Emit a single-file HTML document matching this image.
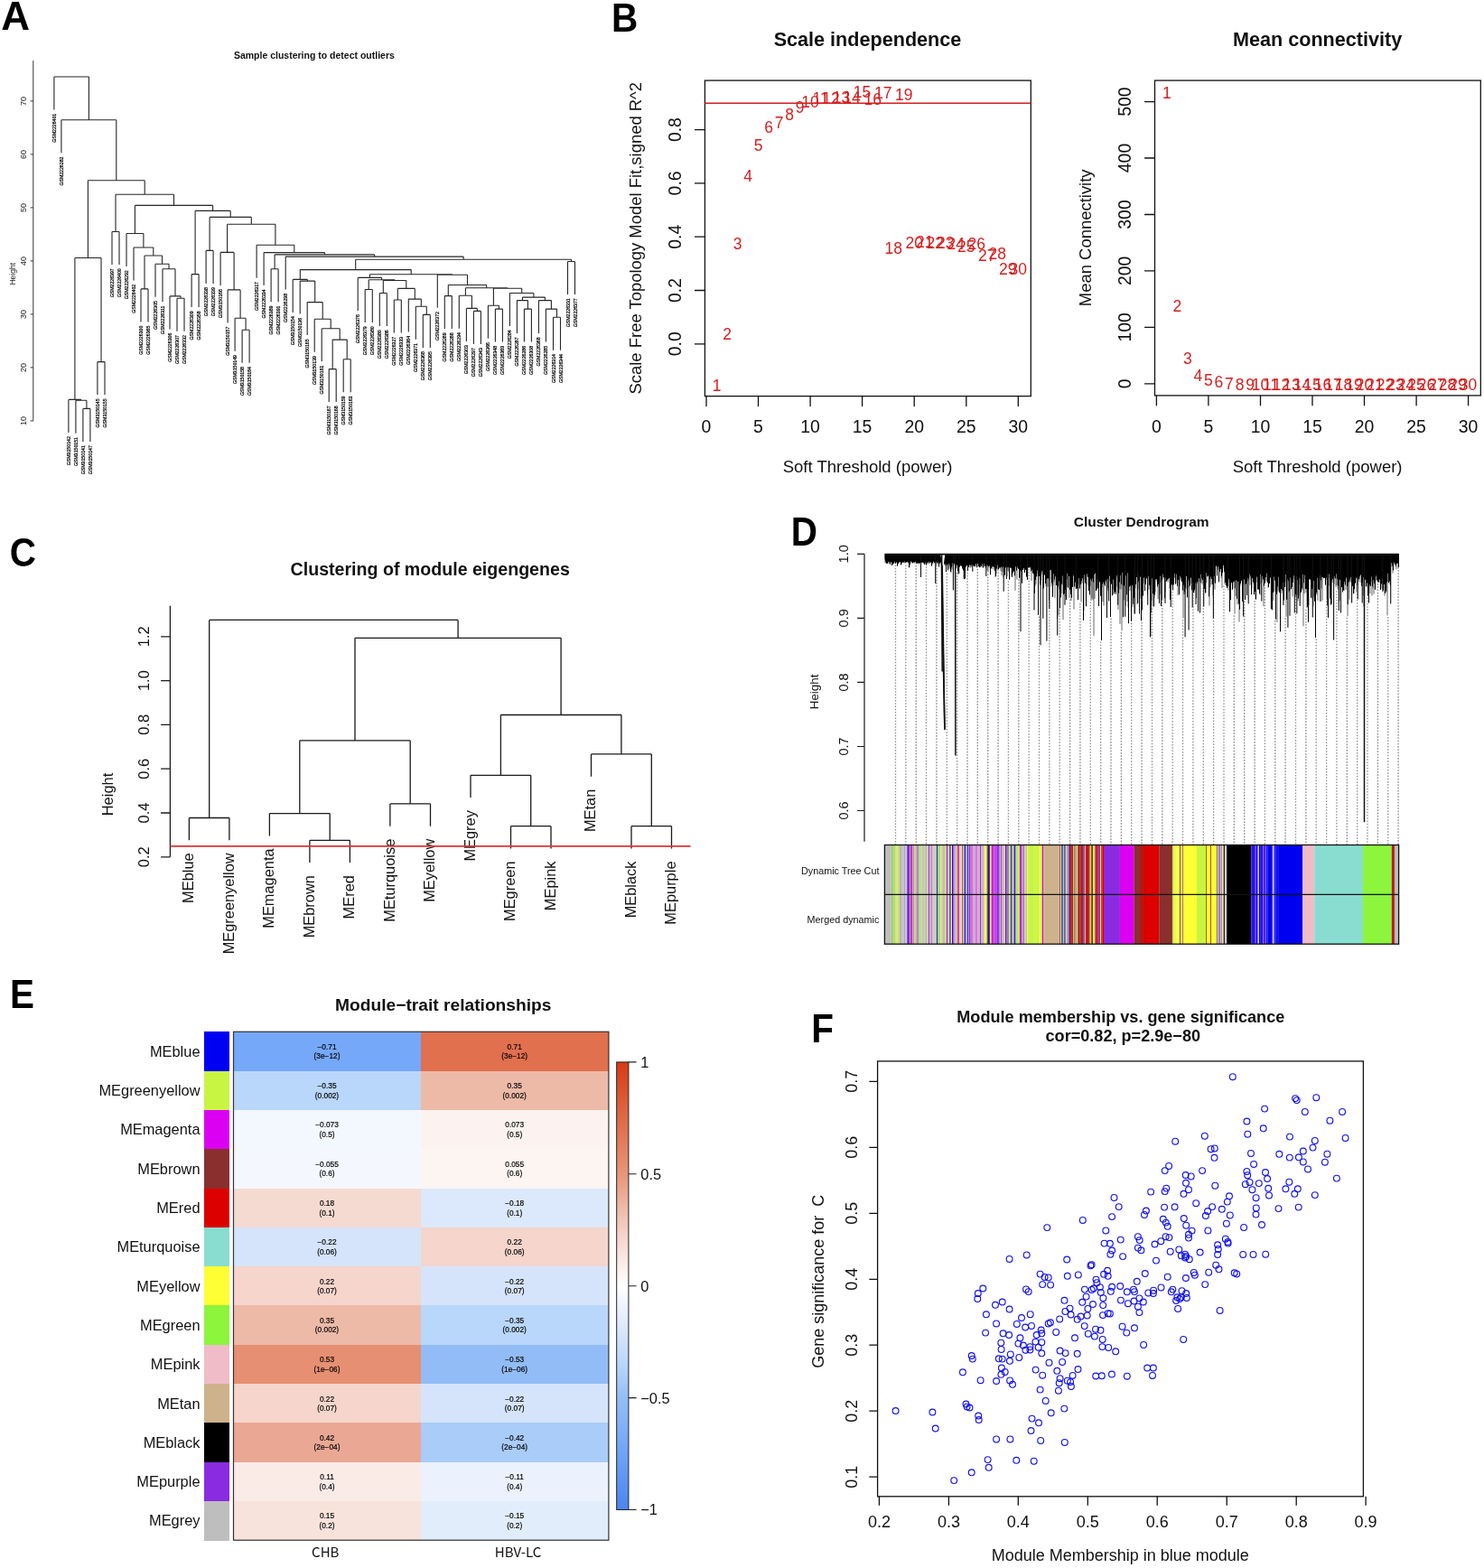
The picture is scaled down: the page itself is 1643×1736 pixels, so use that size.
<!DOCTYPE html>
<html><head><meta charset="utf-8"><title>WGCNA figure</title>
<style>html,body{margin:0;padding:0;background:#fff;width:1643px;height:1736px;overflow:hidden}svg{display:block}</style>
</head><body>
<svg width="1643" height="1736" viewBox="0 0 1643 1736">
<rect width="1643" height="1736" fill="#fff"/>
<path d="M91.9 452.4V488.9M99.9 452.4V488.9M91.9 452.4H99.9M83.9 443.2V479.7M95.9 443.2V452.4M83.9 443.2H95.9M75.9 442.4V478.9M89.9 442.4V443.2M75.9 442.4H89.9M107.9 400.6V437.1M116.0 400.6V437.1M107.9 400.6H116.0M82.9 285.5V442.4M112.0 285.5V400.6M82.9 285.5H112.0M124.0 256.5V293.0M132.0 256.5V293.0M124.0 256.5H132.0M156.0 319.9V356.4M164.0 319.9V356.4M156.0 319.9H164.0M196.0 330.3V366.8M204.0 330.3V366.8M196.0 330.3H204.0M188.0 327.9V364.4M200.0 327.9V330.3M188.0 327.9H200.0M180.0 297.7V334.2M194.0 297.7V327.9M180.0 297.7H194.0M172.0 292.3V328.8M187.0 292.3V297.7M172.0 292.3H187.0M160.0 283.0V319.9M179.5 283.0V292.3M160.0 283.0H179.5M148.0 274.0V310.5M169.8 274.0V283.0M148.0 274.0H169.8M140.0 258.5V295.0M158.9 258.5V274.0M140.0 258.5H158.9M212.1 303.6V340.1M220.1 303.6V340.1M212.1 303.6H220.1M228.1 277.4V313.9M236.1 277.4V313.9M228.1 277.4H236.1M268.1 365.2V401.7M276.1 365.2V401.7M268.1 365.2H276.1M260.1 352.2V388.7M272.1 352.2V365.2M260.1 352.2H272.1M252.1 320.9V357.4M266.1 320.9V352.2M252.1 320.9H266.1M244.1 279.4V315.9M259.1 279.4V320.9M244.1 279.4H259.1M300.1 297.8V334.3M308.1 297.8V334.3M300.1 297.8H308.1M364.2 408.6V445.1M372.2 408.6V445.1M364.2 408.6H372.2M380.2 397.7V434.2M388.2 397.7V434.2M380.2 397.7H388.2M368.2 376.1V408.6M384.2 376.1V397.7M368.2 376.1H384.2M356.2 363.8V400.3M376.2 363.8V376.1M356.2 363.8H376.2M348.2 353.3V389.8M366.2 353.3V363.8M348.2 353.3H366.2M340.2 334.6V371.1M357.2 334.6V353.3M340.2 334.6H357.2M332.2 311.1V347.6M348.7 311.1V334.6M332.2 311.1H348.7M324.2 309.4V345.9M340.4 309.4V311.1M324.2 309.4H340.4M404.2 320.5V357.0M412.3 320.5V357.0M404.2 320.5H412.3M420.3 324.5V361.0M428.3 324.5V361.0M420.3 324.5H428.3M436.3 332.0V368.5M444.3 332.0V368.5M436.3 332.0H444.3M468.3 348.4V384.9M476.3 348.4V384.9M468.3 348.4H476.3M460.3 339.2V375.7M472.3 339.2V348.4M460.3 339.2H472.3M452.3 331.1V367.6M466.3 331.1V339.2M452.3 331.1H466.3M440.3 319.4V332.0M459.3 319.4V331.1M440.3 319.4H459.3M424.3 310.5V324.5M449.8 310.5V319.4M424.3 310.5H449.8M408.2 309.8V320.5M437.0 309.8V310.5M408.2 309.8H437.0M396.2 307.4V343.9M422.6 307.4V309.8M396.2 307.4H422.6M492.3 327.6V364.1M500.3 327.6V364.1M492.3 327.6H500.3M524.4 344.4V380.9M532.4 344.4V380.9M524.4 344.4H532.4M516.4 341.4V377.9M528.4 341.4V344.4M516.4 341.4H528.4M508.3 327.3V363.8M522.4 327.3V341.4M508.3 327.3H522.4M548.4 342.1V378.6M556.4 342.1V378.6M548.4 342.1H556.4M540.4 338.3V374.8M552.4 338.3V342.1M540.4 338.3H552.4M580.4 342.1V378.6M588.4 342.1V378.6M580.4 342.1H588.4M572.4 332.6V369.1M584.4 332.6V342.1M572.4 332.6H584.4M612.5 351.2V387.7M620.5 351.2V387.7M612.5 351.2H620.5M604.4 342.1V378.6M616.5 342.1V351.2M604.4 342.1H616.5M596.4 332.6V369.1M610.4 332.6V342.1M596.4 332.6H610.4M578.4 329.1V332.6M603.4 329.1V332.6M578.4 329.1H603.4M564.4 324.5V361.0M590.9 324.5V329.1M564.4 324.5H590.9M546.4 319.3V338.3M577.7 319.3V324.5M546.4 319.3H577.7M515.4 318.8V327.3M562.0 318.8V319.3M515.4 318.8H562.0M496.3 315.5V327.6M538.7 315.5V318.8M496.3 315.5H538.7M484.3 304.3V340.8M517.5 304.3V315.5M484.3 304.3H517.5M409.4 303.7V307.4M500.9 303.7V304.3M409.4 303.7H500.9M332.3 298.6V309.4M455.2 298.6V303.7M332.3 298.6H455.2M628.5 289.5V326.0M636.5 289.5V326.0M628.5 289.5H636.5M393.7 287.2V298.6M632.5 287.2V289.5M393.7 287.2H632.5M316.2 284.1V320.6M513.1 284.1V287.2M316.2 284.1H513.1M304.1 281.9V297.8M414.6 281.9V284.1M304.1 281.9H414.6M292.1 279.6V316.1M359.4 279.6V281.9M292.1 279.6H359.4M284.1 271.2V307.7M325.8 271.2V279.6M284.1 271.2H325.8M251.6 248.3V279.4M304.9 248.3V271.2M251.6 248.3H304.9M232.1 240.4V277.4M278.3 240.4V248.3M232.1 240.4H278.3M216.1 233.4V303.6M255.2 233.4V240.4M216.1 233.4H255.2M149.4 227.4V258.5M235.6 227.4V233.4M149.4 227.4H235.6M128.0 215.3V256.5M192.5 215.3V227.4M128.0 215.3H192.5M97.4 199.7V285.5M160.2 199.7V215.3M97.4 199.7H160.2M67.9 132.8V169.3M128.8 132.8V199.7M67.9 132.8H128.8M59.9 85.0V121.5M98.4 85.0V132.8M59.9 85.0H98.4" fill="none" stroke="#262626" stroke-width="1.1"/>
<g font-family="Liberation Sans, Arial, sans-serif" font-size="5.2" fill="#000" stroke="#000" stroke-width="0.22"><text transform="translate(61.9 125.8) rotate(-90)" text-anchor="end">GSM2226401</text><text transform="translate(69.9 173.6) rotate(-90)" text-anchor="end">GSM2226282</text><text transform="translate(77.9 483.2) rotate(-90)" text-anchor="end">GSM3150142</text><text transform="translate(85.9 484.0) rotate(-90)" text-anchor="end">GSM3150151</text><text transform="translate(93.9 493.2) rotate(-90)" text-anchor="end">GSM3150141</text><text transform="translate(101.9 493.2) rotate(-90)" text-anchor="end">GSM3150147</text><text transform="translate(109.9 441.4) rotate(-90)" text-anchor="end">GSM3150145</text><text transform="translate(118.0 441.4) rotate(-90)" text-anchor="end">GSM3150155</text><text transform="translate(126.0 297.3) rotate(-90)" text-anchor="end">GSM2226397</text><text transform="translate(134.0 297.3) rotate(-90)" text-anchor="end">GSM2226400</text><text transform="translate(142.0 299.3) rotate(-90)" text-anchor="end">GSM2226292</text><text transform="translate(150.0 314.8) rotate(-90)" text-anchor="end">GSM2226402</text><text transform="translate(158.0 360.7) rotate(-90)" text-anchor="end">GSM2226300</text><text transform="translate(166.0 360.7) rotate(-90)" text-anchor="end">GSM2226365</text><text transform="translate(174.0 333.1) rotate(-90)" text-anchor="end">GSM2226305</text><text transform="translate(182.0 338.5) rotate(-90)" text-anchor="end">GSM2226311</text><text transform="translate(190.0 368.7) rotate(-90)" text-anchor="end">GSM2226306</text><text transform="translate(198.0 371.1) rotate(-90)" text-anchor="end">GSM2226307</text><text transform="translate(206.0 371.1) rotate(-90)" text-anchor="end">GSM2226332</text><text transform="translate(214.1 344.4) rotate(-90)" text-anchor="end">GSM2226309</text><text transform="translate(222.1 344.4) rotate(-90)" text-anchor="end">GSM2226358</text><text transform="translate(230.1 318.2) rotate(-90)" text-anchor="end">GSM2226338</text><text transform="translate(238.1 318.2) rotate(-90)" text-anchor="end">GSM2226339</text><text transform="translate(246.1 320.2) rotate(-90)" text-anchor="end">GSM3150166</text><text transform="translate(254.1 361.7) rotate(-90)" text-anchor="end">GSM3150157</text><text transform="translate(262.1 393.0) rotate(-90)" text-anchor="end">GSM3150149</text><text transform="translate(270.1 406.0) rotate(-90)" text-anchor="end">GSM3150158</text><text transform="translate(278.1 406.0) rotate(-90)" text-anchor="end">GSM3150164</text><text transform="translate(286.1 312.0) rotate(-90)" text-anchor="end">GSM2226317</text><text transform="translate(294.1 320.4) rotate(-90)" text-anchor="end">GSM2226334</text><text transform="translate(302.1 338.6) rotate(-90)" text-anchor="end">GSM2226389</text><text transform="translate(310.1 338.6) rotate(-90)" text-anchor="end">GSM2226391</text><text transform="translate(318.2 324.9) rotate(-90)" text-anchor="end">GSM2226298</text><text transform="translate(326.2 350.2) rotate(-90)" text-anchor="end">GSM3150154</text><text transform="translate(334.2 351.9) rotate(-90)" text-anchor="end">GSM3150136</text><text transform="translate(342.2 375.4) rotate(-90)" text-anchor="end">GSM3150165</text><text transform="translate(350.2 394.1) rotate(-90)" text-anchor="end">GSM3150139</text><text transform="translate(358.2 404.6) rotate(-90)" text-anchor="end">GSM3150161</text><text transform="translate(366.2 449.4) rotate(-90)" text-anchor="end">GSM3150167</text><text transform="translate(374.2 449.4) rotate(-90)" text-anchor="end">GSM3150168</text><text transform="translate(382.2 438.5) rotate(-90)" text-anchor="end">GSM3150159</text><text transform="translate(390.2 438.5) rotate(-90)" text-anchor="end">GSM3150163</text><text transform="translate(398.2 348.2) rotate(-90)" text-anchor="end">GSM2226376</text><text transform="translate(406.2 361.3) rotate(-90)" text-anchor="end">GSM2226379</text><text transform="translate(414.3 361.3) rotate(-90)" text-anchor="end">GSM2226380</text><text transform="translate(422.3 365.3) rotate(-90)" text-anchor="end">GSM2226380</text><text transform="translate(430.3 365.3) rotate(-90)" text-anchor="end">GSM2226386</text><text transform="translate(438.3 372.8) rotate(-90)" text-anchor="end">GSM2226327</text><text transform="translate(446.3 372.8) rotate(-90)" text-anchor="end">GSM2226333</text><text transform="translate(454.3 371.9) rotate(-90)" text-anchor="end">GSM2226364</text><text transform="translate(462.3 380.0) rotate(-90)" text-anchor="end">GSM2226371</text><text transform="translate(470.3 389.2) rotate(-90)" text-anchor="end">GSM2226368</text><text transform="translate(478.3 389.2) rotate(-90)" text-anchor="end">GSM2226395</text><text transform="translate(486.3 345.1) rotate(-90)" text-anchor="end">GSM2226372</text><text transform="translate(494.3 368.4) rotate(-90)" text-anchor="end">GSM2226289</text><text transform="translate(502.3 368.4) rotate(-90)" text-anchor="end">GSM2226288</text><text transform="translate(510.3 368.1) rotate(-90)" text-anchor="end">GSM2226294</text><text transform="translate(518.4 382.2) rotate(-90)" text-anchor="end">GSM2226303</text><text transform="translate(526.4 385.2) rotate(-90)" text-anchor="end">GSM2226297</text><text transform="translate(534.4 385.2) rotate(-90)" text-anchor="end">GSM2226343</text><text transform="translate(542.4 379.1) rotate(-90)" text-anchor="end">GSM2226366</text><text transform="translate(550.4 382.9) rotate(-90)" text-anchor="end">GSM2226348</text><text transform="translate(558.4 382.9) rotate(-90)" text-anchor="end">GSM2226369</text><text transform="translate(566.4 365.3) rotate(-90)" text-anchor="end">GSM2226284</text><text transform="translate(574.4 373.4) rotate(-90)" text-anchor="end">GSM2226287</text><text transform="translate(582.4 382.9) rotate(-90)" text-anchor="end">GSM2226286</text><text transform="translate(590.4 382.9) rotate(-90)" text-anchor="end">GSM2226308</text><text transform="translate(598.4 373.4) rotate(-90)" text-anchor="end">GSM2226368</text><text transform="translate(606.4 382.9) rotate(-90)" text-anchor="end">GSM2226285</text><text transform="translate(614.5 392.0) rotate(-90)" text-anchor="end">GSM2226314</text><text transform="translate(622.5 392.0) rotate(-90)" text-anchor="end">GSM2226344</text><text transform="translate(630.5 330.3) rotate(-90)" text-anchor="end">GSM2226331</text><text transform="translate(638.5 330.3) rotate(-90)" text-anchor="end">GSM2226377</text></g>
<path d="M36.8 67.1V465.9M33.7 465.9H36.8M33.7 406.9H36.8M33.7 347.9H36.8M33.7 288.9H36.8M33.7 229.9H36.8M33.7 170.9H36.8M33.7 111.9H36.8" fill="none" stroke="#333" stroke-width="1"/>
<g font-family="Liberation Sans, Arial, sans-serif" font-size="9" fill="#222"><text transform="translate(28.8 465.9) rotate(-90)" text-anchor="middle">10</text><text transform="translate(28.8 406.9) rotate(-90)" text-anchor="middle">20</text><text transform="translate(28.8 347.9) rotate(-90)" text-anchor="middle">30</text><text transform="translate(28.8 288.9) rotate(-90)" text-anchor="middle">40</text><text transform="translate(28.8 229.9) rotate(-90)" text-anchor="middle">50</text><text transform="translate(28.8 170.9) rotate(-90)" text-anchor="middle">60</text><text transform="translate(28.8 111.9) rotate(-90)" text-anchor="middle">70</text></g>
<text transform="translate(16.5 303.3) rotate(-90)" text-anchor="middle" font-family="Liberation Sans, Arial, sans-serif" font-size="8.5" fill="#222">Height</text>
<text x="347.9" y="64.8" text-anchor="middle" font-family="Liberation Sans, Arial, sans-serif" font-weight="bold" font-size="10.5" fill="#111">Sample clustering to detect outliers</text>
<rect x="780.4" y="89.1" width="360.9" height="349.5" fill="none" stroke="#111" stroke-width="1.3"/>
<path d="M782.0 438.6V450.0M839.5 438.6V450.0M897.1 438.6V450.0M954.6 438.6V450.0M1012.2 438.6V450.0M1069.8 438.6V450.0M1127.3 438.6V450.0M780.4 380.8H769.0M780.4 321.5H769.0M780.4 262.2H769.0M780.4 202.9H769.0M780.4 143.6H769.0" stroke="#111" stroke-width="1.3" fill="none"/>
<g font-family="Liberation Sans, Arial, sans-serif" font-size="19.4" fill="#111"><text x="782.0" y="478.8" text-anchor="middle">0</text><text x="839.5" y="478.8" text-anchor="middle">5</text><text x="897.1" y="478.8" text-anchor="middle">10</text><text x="954.6" y="478.8" text-anchor="middle">15</text><text x="1012.2" y="478.8" text-anchor="middle">20</text><text x="1069.8" y="478.8" text-anchor="middle">25</text><text x="1127.3" y="478.8" text-anchor="middle">30</text><text transform="translate(754.2 380.8) rotate(-90)" text-anchor="middle">0.0</text><text transform="translate(754.2 321.5) rotate(-90)" text-anchor="middle">0.2</text><text transform="translate(754.2 262.2) rotate(-90)" text-anchor="middle">0.4</text><text transform="translate(754.2 202.9) rotate(-90)" text-anchor="middle">0.6</text><text transform="translate(754.2 143.6) rotate(-90)" text-anchor="middle">0.8</text><text x="960.6" y="522.5" text-anchor="middle" font-size="18.5">Soft Threshold (power)</text><text transform="translate(709.8 263.75) rotate(-90)" text-anchor="middle" font-size="18.45">Scale Free Topology Model Fit,signed R^2</text></g>
<text x="960.5" y="51.4" text-anchor="middle" font-family="Liberation Sans, Arial, sans-serif" font-weight="bold" font-size="21.6" fill="#111">Scale independence</text>
<line x1="780.4" x2="1141.3" y1="114.3" y2="114.3" stroke="#d41f1f" stroke-width="1.5"/>
<g font-family="Liberation Sans, Arial, sans-serif" font-size="17.5" fill="#d41f1f"><text x="793.5" y="432.5" text-anchor="middle">1</text><text x="805.0" y="375.6" text-anchor="middle">2</text><text x="816.5" y="276.3" text-anchor="middle">3</text><text x="828.0" y="201.4" text-anchor="middle">4</text><text x="839.5" y="166.5" text-anchor="middle">5</text><text x="851.1" y="146.5" text-anchor="middle">6</text><text x="862.6" y="142.1" text-anchor="middle">7</text><text x="874.1" y="132.9" text-anchor="middle">8</text><text x="885.6" y="125.3" text-anchor="middle">9</text><text x="897.1" y="119.3" text-anchor="middle">10</text><text x="908.6" y="115.4" text-anchor="middle">11</text><text x="920.1" y="115.0" text-anchor="middle">12</text><text x="931.6" y="114.1" text-anchor="middle">13</text><text x="943.1" y="113.6" text-anchor="middle">14</text><text x="954.6" y="107.7" text-anchor="middle">15</text><text x="966.2" y="115.8" text-anchor="middle">16</text><text x="977.7" y="108.8" text-anchor="middle">17</text><text x="989.2" y="280.7" text-anchor="middle">18</text><text x="1000.7" y="110.6" text-anchor="middle">19</text><text x="1012.2" y="274.5" text-anchor="middle">20</text><text x="1023.7" y="273.9" text-anchor="middle">21</text><text x="1035.2" y="275.4" text-anchor="middle">22</text><text x="1046.7" y="275.4" text-anchor="middle">23</text><text x="1058.2" y="276.3" text-anchor="middle">24</text><text x="1069.8" y="278.5" text-anchor="middle">25</text><text x="1081.3" y="276.3" text-anchor="middle">26</text><text x="1092.8" y="288.8" text-anchor="middle">27</text><text x="1104.3" y="287.3" text-anchor="middle">28</text><text x="1115.8" y="304.0" text-anchor="middle">29</text><text x="1127.3" y="304.0" text-anchor="middle">30</text></g>
<rect x="1278.5" y="89.1" width="360.8" height="348.8" fill="none" stroke="#111" stroke-width="1.3"/>
<path d="M1280.4 437.9V449.3M1337.9 437.9V449.3M1395.5 437.9V449.3M1453.0 437.9V449.3M1510.5 437.9V449.3M1568.1 437.9V449.3M1625.6 437.9V449.3M1278.5 424.8H1267.1M1278.5 362.4H1267.1M1278.5 299.9H1267.1M1278.5 237.5H1267.1M1278.5 175.0H1267.1M1278.5 112.6H1267.1" stroke="#111" stroke-width="1.3" fill="none"/>
<g font-family="Liberation Sans, Arial, sans-serif" font-size="19.4" fill="#111"><text x="1280.4" y="478.8" text-anchor="middle">0</text><text x="1337.9" y="478.8" text-anchor="middle">5</text><text x="1395.5" y="478.8" text-anchor="middle">10</text><text x="1453.0" y="478.8" text-anchor="middle">15</text><text x="1510.5" y="478.8" text-anchor="middle">20</text><text x="1568.1" y="478.8" text-anchor="middle">25</text><text x="1625.6" y="478.8" text-anchor="middle">30</text><text transform="translate(1251.5 424.8) rotate(-90)" text-anchor="middle">0</text><text transform="translate(1251.5 362.4) rotate(-90)" text-anchor="middle">100</text><text transform="translate(1251.5 299.9) rotate(-90)" text-anchor="middle">200</text><text transform="translate(1251.5 237.5) rotate(-90)" text-anchor="middle">300</text><text transform="translate(1251.5 175.0) rotate(-90)" text-anchor="middle">400</text><text transform="translate(1251.5 112.6) rotate(-90)" text-anchor="middle">500</text><text x="1458.6" y="522.5" text-anchor="middle" font-size="18.5">Soft Threshold (power)</text><text transform="translate(1208.2 263.3) rotate(-90)" text-anchor="middle" font-size="18.45">Mean Connectivity</text></g>
<text x="1458.6" y="51.4" text-anchor="middle" font-family="Liberation Sans, Arial, sans-serif" font-weight="bold" font-size="21.6" fill="#111">Mean connectivity</text>
<g font-family="Liberation Sans, Arial, sans-serif" font-size="17.5" fill="#d41f1f"><text x="1291.9" y="108.9" text-anchor="middle">1</text><text x="1303.4" y="345.3" text-anchor="middle">2</text><text x="1314.9" y="402.9" text-anchor="middle">3</text><text x="1326.4" y="421.7" text-anchor="middle">4</text><text x="1337.9" y="427.2" text-anchor="middle">5</text><text x="1349.4" y="429.4" text-anchor="middle">6</text><text x="1360.9" y="430.5" text-anchor="middle">7</text><text x="1372.5" y="431.6" text-anchor="middle">8</text><text x="1384.0" y="431.6" text-anchor="middle">9</text><text x="1395.5" y="431.6" text-anchor="middle">10</text><text x="1407.0" y="431.6" text-anchor="middle">11</text><text x="1418.5" y="431.6" text-anchor="middle">12</text><text x="1430.0" y="431.6" text-anchor="middle">13</text><text x="1441.5" y="431.6" text-anchor="middle">14</text><text x="1453.0" y="431.6" text-anchor="middle">15</text><text x="1464.5" y="431.6" text-anchor="middle">16</text><text x="1476.0" y="431.6" text-anchor="middle">17</text><text x="1487.5" y="431.6" text-anchor="middle">18</text><text x="1499.0" y="431.6" text-anchor="middle">19</text><text x="1510.5" y="431.6" text-anchor="middle">20</text><text x="1522.0" y="431.6" text-anchor="middle">21</text><text x="1533.6" y="431.6" text-anchor="middle">22</text><text x="1545.1" y="431.6" text-anchor="middle">23</text><text x="1556.6" y="431.6" text-anchor="middle">24</text><text x="1568.1" y="431.6" text-anchor="middle">25</text><text x="1579.6" y="431.6" text-anchor="middle">26</text><text x="1591.1" y="431.6" text-anchor="middle">27</text><text x="1602.6" y="431.6" text-anchor="middle">28</text><text x="1614.1" y="431.6" text-anchor="middle">29</text><text x="1625.6" y="431.6" text-anchor="middle">30</text></g>
<path d="M209.4 905.5V930.3M253.9 905.5V930.3M209.4 905.5H253.9M342.9 930.3V955.1M387.4 930.3V955.1M342.9 930.3H387.4M298.4 900.6V925.4M365.2 900.6V930.3M298.4 900.6H365.2M431.9 889.9V914.7M476.5 889.9V914.7M431.9 889.9H476.5M331.8 819.8V900.6M454.2 819.8V889.9M331.8 819.8H454.2M565.5 914.7V939.5M610.0 914.7V939.5M565.5 914.7H610.0M521.0 858.3V883.1M587.7 858.3V914.7M521.0 858.3H587.7M699.0 914.7V939.5M743.5 914.7V939.5M699.0 914.7H743.5M654.5 834.9V859.7M721.3 834.9V914.7M654.5 834.9H721.3M554.4 791.5V858.3M687.9 791.5V834.9M554.4 791.5H687.9M393.0 706.3V819.8M621.1 706.3V791.5M393.0 706.3H621.1M231.7 686.4V905.5M507.1 686.4V706.3M231.7 686.4H507.1" fill="none" stroke="#1a1a1a" stroke-width="1.3"/>
<g font-family="Liberation Sans, Arial, sans-serif" font-size="16.4" fill="#111"><text transform="translate(214.2 944.3) rotate(-90)" text-anchor="end">MEblue</text><text transform="translate(258.7 944.3) rotate(-90)" text-anchor="end">MEgreenyellow</text><text transform="translate(303.2 939.4) rotate(-90)" text-anchor="end">MEmagenta</text><text transform="translate(347.7 969.1) rotate(-90)" text-anchor="end">MEbrown</text><text transform="translate(392.2 969.1) rotate(-90)" text-anchor="end">MEred</text><text transform="translate(436.8 928.7) rotate(-90)" text-anchor="end">MEturquoise</text><text transform="translate(481.3 928.7) rotate(-90)" text-anchor="end">MEyellow</text><text transform="translate(525.8 897.1) rotate(-90)" text-anchor="end">MEgrey</text><text transform="translate(570.3 953.5) rotate(-90)" text-anchor="end">MEgreen</text><text transform="translate(614.8 953.5) rotate(-90)" text-anchor="end">MEpink</text><text transform="translate(659.3 873.7) rotate(-90)" text-anchor="end">MEtan</text><text transform="translate(703.8 953.5) rotate(-90)" text-anchor="end">MEblack</text><text transform="translate(748.3 953.5) rotate(-90)" text-anchor="end">MEpurple</text></g>
<path d="M188.4 670.7V948.7M178.1 948.8H188.4M178.1 900.0H188.4M178.1 851.2H188.4M178.1 802.4H188.4M178.1 753.6H188.4M178.1 704.8H188.4" fill="none" stroke="#1a1a1a" stroke-width="1.3"/>
<g font-family="Liberation Sans, Arial, sans-serif" font-size="16.5" fill="#111"><text transform="translate(165.3 948.8) rotate(-90)" text-anchor="middle">0.2</text><text transform="translate(165.3 900.0) rotate(-90)" text-anchor="middle">0.4</text><text transform="translate(165.3 851.2) rotate(-90)" text-anchor="middle">0.6</text><text transform="translate(165.3 802.4) rotate(-90)" text-anchor="middle">0.8</text><text transform="translate(165.3 753.6) rotate(-90)" text-anchor="middle">1.0</text><text transform="translate(165.3 704.8) rotate(-90)" text-anchor="middle">1.2</text><text transform="translate(125.1 879.5) rotate(-90)" text-anchor="middle">Height</text></g>
<line x1="188.4" x2="764.5" y1="936.9" y2="936.9" stroke="#dc3434" stroke-width="1.8"/>
<text x="476.2" y="637.2" text-anchor="middle" font-family="Liberation Sans, Arial, sans-serif" font-weight="bold" font-size="19.6" fill="#111">Clustering of module eigengenes</text>
<path d="M1548.1 631.1V935M1536.7 682.9V935M1525.4 646.1V935M1514.0 661.4V935M1502.7 657.4V935M1491.3 683.8V935M1479.9 654.2V935M1468.6 665.4V935M1457.2 707.4V935M1445.9 674.8V935M1434.5 663.0V935M1423.1 684.3V935M1411.8 687.1V935M1400.4 650.2V935M1389.1 665.1V935M1377.7 665.6V935M1366.3 681.3V935M1355.0 648.5V935M1343.6 660.9V935M1332.3 643.9V935M1320.9 658.2V935M1309.5 686.0V935M1298.2 655.0V935M1286.8 666.6V935M1275.5 673.2V935M1264.1 688.8V935M1252.7 689.4V935M1241.4 699.8V935M1230.0 684.6V935M1218.7 710.5V935M1207.3 666.5V935M1195.9 668.1V935M1184.6 663.6V935M1173.2 674.9V935M1161.9 666.4V935M1150.5 682.4V935M1139.1 630.0V935M1127.8 641.3V935M1116.4 643.2V935M1105.1 633.6V935M1093.7 635.3V935M1082.3 629.8V935M1071.0 633.6V935M1059.6 634.0V935M1048.3 634.7V935M1036.9 628.8V935M1025.5 627.2V935M1014.2 625.8V935M1002.8 625.4V935M991.5 625.5V935" stroke="#8c8c8c" stroke-width="1.3" stroke-dasharray="1.6 1.65" fill="none"/>
<path d="M980.00 613.3V622.9M981.00 613.3V624.0M982.00 613.3V623.1M983.00 613.3V623.4M984.00 613.3V623.7M985.00 613.3V623.7M986.00 613.3V622.5M987.00 613.3V622.8M988.00 613.3V623.7M989.00 613.3V624.8M990.00 613.3V623.1M991.00 613.3V623.5M992.00 613.3V622.8M993.00 613.3V622.0M994.00 613.3V624.4M995.00 613.3V622.3M996.00 613.3V622.1M997.00 613.3V621.8M998.00 613.3V624.5M999.00 613.3V622.0M1000.00 613.3V622.9M1001.00 613.3V622.9M1002.00 613.3V623.9M1003.00 613.3V622.1M1004.00 613.3V621.9M1005.00 613.3V622.3M1006.00 613.3V621.3M1007.00 613.3V626.5M1008.00 613.3V623.1M1009.00 613.3V622.2M1010.00 613.3V622.5M1011.00 613.3V623.2M1012.00 613.3V621.8M1013.00 613.3V624.2M1014.00 613.3V621.8M1015.00 613.3V624.3M1016.00 613.3V621.7M1017.00 613.3V623.7M1018.00 613.3V622.9M1019.00 613.3V621.6M1020.00 613.3V622.3M1021.00 613.3V623.4M1022.00 613.3V623.4M1023.00 613.3V624.5M1024.00 613.3V624.3M1025.00 613.3V624.8M1026.00 613.3V623.8M1027.00 613.3V624.6M1028.00 613.3V621.5M1029.00 613.3V624.1M1030.00 613.3V623.2M1031.00 613.3V623.0M1032.00 613.3V624.8M1033.00 613.3V623.7M1034.00 613.3V621.4M1035.00 613.3V623.7M1036.00 613.3V621.5M1037.00 613.3V627.3M1038.00 613.3V621.0M1039.00 613.3V624.4M1040.00 613.3V623.6M1041.00 613.3V621.9M1042.00 613.3V625.6M1043.00 613.3V623.9M1044.00 613.3V621.7M1045.00 613.3V623.2M1046.00 613.3V625.9M1047.00 613.3V626.6M1048.00 613.3V625.4M1049.00 613.3V626.1M1050.00 613.3V625.1M1051.00 613.3V629.6M1052.00 613.3V630.6M1053.00 613.3V634.0M1054.00 613.3V630.6M1055.00 613.3V626.8M1056.00 613.3V625.4M1057.00 613.3V623.7M1058.00 613.3V627.0M1059.00 613.3V626.2M1060.00 613.3V628.2M1061.00 613.3V636.0M1062.00 613.3V626.5M1063.00 613.3V624.2M1064.00 613.3V625.6M1065.00 613.3V624.3M1066.00 613.3V627.4M1067.00 613.3V640.2M1068.00 613.3V627.5M1069.00 613.3V624.8M1070.00 613.3V626.7M1071.00 613.3V625.6M1072.00 613.3V625.9M1073.00 613.3V626.0M1074.00 613.3V628.8M1075.00 613.3V627.9M1076.00 613.3V627.6M1077.00 613.3V624.9M1078.00 613.3V625.8M1079.00 613.3V626.6M1080.00 613.3V625.2M1081.00 613.3V625.8M1082.00 613.3V624.0M1083.00 613.3V627.7M1084.00 613.3V626.5M1085.00 613.3V628.3M1086.00 613.3V628.1M1087.00 613.3V626.3M1088.00 613.3V628.2M1089.00 613.3V626.9M1090.00 613.3V627.0M1091.00 613.3V629.1M1092.00 613.3V627.2M1093.00 613.3V631.8M1094.00 613.3V633.8M1095.00 613.3V626.1M1096.00 613.3V628.8M1097.00 613.3V626.8M1098.00 613.3V629.8M1099.00 613.3V627.2M1100.00 613.3V630.8M1101.00 613.3V627.2M1102.00 613.3V627.6M1103.00 613.3V635.0M1104.00 613.3V630.2M1105.00 613.3V632.1M1106.00 613.3V629.6M1107.00 613.3V627.0M1108.00 613.3V632.4M1109.00 613.3V637.3M1110.00 613.3V633.2M1111.00 613.3V639.3M1112.00 613.3V625.6M1113.00 613.3V624.9M1114.00 613.3V625.2M1115.00 613.3V638.2M1116.00 613.3V631.9M1117.00 613.3V633.2M1118.00 613.3V625.5M1119.00 613.3V627.8M1120.00 613.3V637.4M1121.00 613.3V628.4M1122.00 613.3V626.5M1123.00 613.3V625.6M1124.00 613.3V653.8M1125.00 613.3V627.0M1126.00 613.3V641.5M1127.00 613.3V627.2M1128.00 613.3V625.8M1129.00 613.3V640.2M1130.00 613.3V628.4M1131.00 613.3V627.9M1132.00 613.3V626.0M1133.00 613.3V628.0M1134.00 613.3V631.6M1135.00 613.3V627.3M1136.00 613.3V629.5M1137.00 613.3V633.6M1138.00 613.3V624.7M1139.00 613.3V628.1M1140.00 613.3V628.3M1141.00 613.3V629.1M1142.00 613.3V643.0M1143.00 613.3V632.0M1144.00 613.3V634.1M1145.00 613.3V633.0M1146.00 613.3V648.6M1147.00 613.3V646.9M1148.00 613.3V638.3M1149.00 613.3V634.6M1150.00 613.3V631.2M1151.00 613.3V634.8M1152.00 613.3V648.2M1153.00 613.3V635.7M1154.00 613.3V633.2M1155.00 613.3V651.8M1156.00 613.3V633.5M1157.00 613.3V632.4M1158.00 613.3V649.2M1159.00 613.3V636.4M1160.00 613.3V649.6M1161.00 613.3V633.3M1162.00 613.3V641.7M1163.00 613.3V631.5M1164.00 613.3V649.4M1165.00 613.3V637.4M1166.00 613.3V648.3M1167.00 613.3V644.2M1168.00 613.3V661.8M1169.00 613.3V639.2M1170.00 613.3V643.7M1171.00 613.3V645.0M1172.00 613.3V681.1M1173.00 613.3V652.4M1174.00 613.3V638.3M1175.00 613.3V657.1M1176.00 613.3V647.5M1177.00 613.3V686.2M1178.00 613.3V632.4M1179.00 613.3V650.9M1180.00 613.3V660.1M1181.00 613.3V650.3M1182.00 613.3V641.4M1183.00 613.3V637.7M1184.00 613.3V662.1M1185.00 613.3V649.8M1186.00 613.3V665.1M1187.00 613.3V637.3M1188.00 613.3V635.7M1189.00 613.3V674.5M1190.00 613.3V649.6M1191.00 613.3V633.4M1192.00 613.3V642.7M1193.00 613.3V636.8M1194.00 613.3V646.8M1195.00 613.3V651.9M1196.00 613.3V638.4M1197.00 613.3V666.6M1198.00 613.3V645.8M1199.00 613.3V639.2M1200.00 613.3V676.2M1201.00 613.3V641.0M1202.00 613.3V636.4M1203.00 613.3V647.5M1204.00 613.3V637.5M1205.00 613.3V648.5M1206.00 613.3V639.4M1207.00 613.3V649.2M1208.00 613.3V665.0M1209.00 613.3V662.5M1210.00 613.3V664.2M1211.00 613.3V703.9M1212.00 613.3V662.9M1213.00 613.3V633.4M1214.00 613.3V634.5M1215.00 613.3V639.4M1216.00 613.3V644.2M1217.00 613.3V633.7M1218.00 613.3V645.1M1219.00 613.3V653.6M1220.00 613.3V650.1M1221.00 613.3V666.0M1222.00 613.3V670.5M1223.00 613.3V643.3M1224.00 613.3V634.5M1225.00 613.3V644.6M1226.00 613.3V651.1M1227.00 613.3V654.1M1228.00 613.3V643.9M1229.00 613.3V635.6M1230.00 613.3V633.1M1231.00 613.3V633.9M1232.00 613.3V658.3M1233.00 613.3V652.7M1234.00 613.3V656.1M1235.00 613.3V634.5M1236.00 613.3V639.7M1237.00 613.3V649.4M1238.00 613.3V674.9M1239.00 613.3V652.2M1240.00 613.3V690.9M1241.00 613.3V652.3M1242.00 613.3V698.3M1243.00 613.3V648.3M1244.00 613.3V647.4M1245.00 613.3V664.4M1246.00 613.3V671.0M1247.00 613.3V637.9M1248.00 613.3V665.9M1249.00 613.3V672.6M1250.00 613.3V646.2M1251.00 613.3V654.2M1252.00 613.3V640.5M1253.00 613.3V644.6M1254.00 613.3V672.0M1255.00 613.3V650.1M1256.00 613.3V679.1M1257.00 613.3V651.2M1258.00 613.3V639.0M1259.00 613.3V669.3M1260.00 613.3V645.2M1261.00 613.3V652.4M1262.00 613.3V636.5M1263.00 613.3V662.6M1264.00 613.3V643.4M1265.00 613.3V642.8M1266.00 613.3V645.8M1267.00 613.3V638.6M1268.00 613.3V640.6M1269.00 613.3V640.5M1270.00 613.3V640.5M1271.00 613.3V635.8M1272.00 613.3V652.6M1273.00 613.3V647.9M1274.00 613.3V704.0M1275.00 613.3V664.8M1276.00 613.3V671.7M1277.00 613.3V637.6M1278.00 613.3V662.2M1279.00 613.3V655.2M1280.00 613.3V638.4M1281.00 613.3V643.9M1282.00 613.3V663.4M1283.00 613.3V642.7M1284.00 613.3V657.9M1285.00 613.3V645.0M1286.00 613.3V664.1M1287.00 613.3V665.1M1288.00 613.3V639.1M1289.00 613.3V640.9M1290.00 613.3V655.7M1291.00 613.3V639.0M1292.00 613.3V642.1M1293.00 613.3V644.5M1294.00 613.3V636.2M1295.00 613.3V651.6M1296.00 613.3V648.1M1297.00 613.3V636.1M1298.00 613.3V639.3M1299.00 613.3V640.0M1300.00 613.3V639.2M1301.00 613.3V640.1M1302.00 613.3V642.1M1303.00 613.3V645.8M1304.00 613.3V659.2M1305.00 613.3V641.5M1306.00 613.3V648.9M1307.00 613.3V641.5M1308.00 613.3V643.1M1309.00 613.3V639.7M1310.00 613.3V684.5M1311.00 613.3V658.2M1312.00 613.3V658.0M1313.00 613.3V637.7M1314.00 613.3V652.4M1315.00 613.3V643.9M1316.00 613.3V650.3M1317.00 613.3V638.9M1318.00 613.3V638.7M1319.00 613.3V646.1M1320.00 613.3V642.4M1321.00 613.3V656.7M1322.00 613.3V656.4M1323.00 613.3V645.4M1324.00 613.3V651.7M1325.00 613.3V641.6M1326.00 613.3V646.3M1327.00 613.3V644.1M1328.00 613.3V640.0M1329.00 613.3V644.7M1330.00 613.3V645.4M1331.00 613.3V647.0M1332.00 613.3V639.9M1333.00 613.3V640.6M1334.00 613.3V644.4M1335.00 613.3V656.3M1336.00 613.3V645.5M1337.00 613.3V635.0M1338.00 613.3V638.3M1339.00 613.3V670.6M1340.00 613.3V650.1M1341.00 613.3V647.3M1342.00 613.3V640.9M1343.00 613.3V659.4M1344.00 613.3V644.8M1345.00 613.3V652.7M1346.00 613.3V627.3M1347.00 613.3V626.8M1348.00 613.3V630.7M1349.00 613.3V628.1M1350.00 613.3V631.1M1351.00 613.3V628.6M1352.00 613.3V640.2M1353.00 613.3V651.0M1354.00 613.3V628.8M1355.00 613.3V625.4M1356.00 613.3V647.0M1357.00 613.3V640.8M1358.00 613.3V649.2M1359.00 613.3V646.3M1360.00 613.3V653.6M1361.00 613.3V643.5M1362.00 613.3V649.6M1363.00 613.3V641.2M1364.00 613.3V646.7M1365.00 613.3V650.9M1366.00 613.3V643.3M1367.00 613.3V679.8M1368.00 613.3V660.1M1369.00 613.3V642.9M1370.00 613.3V669.3M1371.00 613.3V638.5M1372.00 613.3V688.5M1373.00 613.3V648.5M1374.00 613.3V643.4M1375.00 613.3V637.6M1376.00 613.3V643.3M1377.00 613.3V647.1M1378.00 613.3V641.0M1379.00 613.3V636.7M1380.00 613.3V644.5M1381.00 613.3V643.7M1382.00 613.3V642.2M1383.00 613.3V639.1M1384.00 613.3V647.7M1385.00 613.3V641.5M1386.00 613.3V651.4M1387.00 613.3V639.5M1388.00 613.3V646.4M1389.00 613.3V642.8M1390.00 613.3V663.6M1391.00 613.3V644.9M1392.00 613.3V639.7M1393.00 613.3V651.5M1394.00 613.3V651.7M1395.00 613.3V646.9M1396.00 613.3V658.7M1397.00 613.3V644.7M1398.00 613.3V636.3M1399.00 613.3V671.1M1400.00 613.3V639.1M1401.00 613.3V639.3M1402.00 613.3V643.4M1403.00 613.3V643.7M1404.00 613.3V650.6M1405.00 613.3V642.5M1406.00 613.3V640.2M1407.00 613.3V637.6M1408.00 613.3V648.5M1409.00 613.3V656.6M1410.00 613.3V665.3M1411.00 613.3V654.8M1412.00 613.3V639.7M1413.00 613.3V640.7M1414.00 613.3V688.9M1415.00 613.3V654.7M1416.00 613.3V653.4M1417.00 613.3V655.0M1418.00 613.3V636.1M1419.00 613.3V657.0M1420.00 613.3V654.3M1421.00 613.3V636.1M1422.00 613.3V638.6M1423.00 613.3V644.2M1424.00 613.3V682.8M1425.00 613.3V642.7M1426.00 613.3V637.4M1427.00 613.3V655.4M1428.00 613.3V638.6M1429.00 613.3V638.0M1430.00 613.3V648.6M1431.00 613.3V660.5M1432.00 613.3V637.8M1433.00 613.3V640.6M1434.00 613.3V661.5M1435.00 613.3V661.5M1436.00 613.3V658.9M1437.00 613.3V665.3M1438.00 613.3V647.2M1439.00 613.3V658.7M1440.00 613.3V636.2M1441.00 613.3V651.6M1442.00 613.3V653.4M1443.00 613.3V693.3M1444.00 613.3V657.4M1445.00 613.3V640.8M1446.00 613.3V656.3M1447.00 613.3V673.3M1448.00 613.3V639.8M1449.00 613.3V670.0M1450.00 613.3V641.8M1451.00 613.3V637.2M1452.00 613.3V636.1M1453.00 613.3V662.7M1454.00 613.3V671.1M1455.00 613.3V661.0M1456.00 613.3V648.8M1457.00 613.3V657.3M1458.00 613.3V658.6M1459.00 613.3V665.0M1460.00 613.3V644.6M1461.00 613.3V638.7M1462.00 613.3V641.4M1463.00 613.3V651.6M1464.00 613.3V665.1M1465.00 613.3V636.7M1466.00 613.3V639.9M1467.00 613.3V639.4M1468.00 613.3V642.3M1469.00 613.3V663.9M1470.00 613.3V654.7M1471.00 613.3V639.4M1472.00 613.3V648.7M1473.00 613.3V643.4M1474.00 613.3V641.5M1475.00 613.3V645.1M1476.00 613.3V637.0M1477.00 613.3V646.7M1478.00 613.3V640.0M1479.00 613.3V649.8M1480.00 613.3V648.2M1481.00 613.3V652.7M1482.00 613.3V635.4M1483.00 613.3V642.2M1484.00 613.3V664.8M1485.00 613.3V650.1M1486.00 613.3V644.8M1487.00 613.3V644.6M1488.00 613.3V654.0M1489.00 613.3V645.2M1490.00 613.3V653.2M1491.00 613.3V641.0M1492.00 613.3V682.3M1493.00 613.3V642.3M1494.00 613.3V663.6M1495.00 613.3V643.8M1496.00 613.3V644.9M1497.00 613.3V636.3M1498.00 613.3V635.9M1499.00 613.3V656.7M1500.00 613.3V645.4M1501.00 613.3V640.5M1502.00 613.3V655.9M1503.00 613.3V648.1M1504.00 613.3V643.7M1505.00 613.3V640.6M1506.00 613.3V645.0M1507.00 613.3V637.1M1508.00 613.3V642.5M1509.00 613.3V659.5M1510.00 613.3V671.8M1511.00 613.3V641.2M1512.00 613.3V642.4M1513.00 613.3V645.3M1514.00 613.3V649.7M1515.00 613.3V642.0M1516.00 613.3V649.3M1517.00 613.3V657.0M1518.00 613.3V644.5M1519.00 613.3V659.5M1520.00 613.3V651.4M1521.00 613.3V657.6M1522.00 613.3V637.7M1523.00 613.3V643.0M1524.00 613.3V639.0M1525.00 613.3V641.1M1526.00 613.3V639.2M1527.00 613.3V645.1M1528.00 613.3V640.9M1529.00 613.3V646.0M1530.00 613.3V651.6M1531.00 613.3V646.9M1532.00 613.3V638.7M1533.00 613.3V659.7M1534.00 613.3V644.3M1535.00 613.3V656.2M1536.00 613.3V681.4M1537.00 613.3V644.1M1538.00 613.3V638.1M1539.00 613.3V647.3M1540.00 613.3V623.7M1541.00 613.3V627.5M1542.00 613.3V634.7M1543.00 613.3V624.6M1544.00 613.3V622.8M1545.00 613.3V627.5M1546.00 613.3V630.4M1547.00 613.3V622.3M1548.00 613.3V629.6" stroke="#000" stroke-width="0.6" fill="none"/>
<path d="M980.50 613.3V621.7M981.50 613.3V623.7M982.50 613.3V623.8M983.50 613.3V621.7M984.50 613.3V622.1M985.50 613.3V624.9M986.50 613.3V622.1M987.50 613.3V626.1M988.50 613.3V624.5M989.50 613.3V623.7M990.50 613.3V621.6M991.50 613.3V624.0M992.50 613.3V622.5M993.50 613.3V626.8M994.50 613.3V624.2M995.50 613.3V622.5M996.50 613.3V622.3M997.50 613.3V625.6M998.50 613.3V623.4M999.50 613.3V622.4M1000.50 613.3V622.8M1001.50 613.3V621.4M1002.50 613.3V622.7M1003.50 613.3V622.6M1004.50 613.3V622.2M1005.50 613.3V623.1M1006.50 613.3V628.4M1007.50 613.3V624.9M1008.50 613.3V621.3M1009.50 613.3V622.4M1010.50 613.3V623.5M1011.50 613.3V622.4M1012.50 613.3V622.7M1013.50 613.3V621.9M1014.50 613.3V623.4M1015.50 613.3V624.1M1016.50 613.3V622.9M1017.50 613.3V624.4M1018.50 613.3V623.3M1019.50 613.3V622.7M1020.50 613.3V622.8M1021.50 613.3V622.3M1022.50 613.3V623.0M1023.50 613.3V624.9M1024.50 613.3V622.5M1025.50 613.3V625.7M1026.50 613.3V622.4M1027.50 613.3V623.3M1028.50 613.3V621.8M1029.50 613.3V623.3M1030.50 613.3V622.0M1031.50 613.3V626.8M1032.50 613.3V623.4M1033.50 613.3V621.6M1034.50 613.3V622.9M1035.50 613.3V623.8M1036.50 613.3V622.3M1037.50 613.3V623.6M1038.50 613.3V622.8M1039.50 613.3V627.6M1040.50 613.3V623.5M1041.50 613.3V622.6M1042.50 613.3V624.0M1043.50 613.3V621.2M1044.50 613.3V623.1M1045.50 613.3V624.6M1046.50 613.3V624.3M1047.50 613.3V633.2M1048.50 613.3V624.9M1049.50 613.3V631.3M1050.50 613.3V623.9M1051.50 613.3V626.3M1052.50 613.3V632.9M1053.50 613.3V628.2M1054.50 613.3V623.5M1055.50 613.3V625.9M1056.50 613.3V623.9M1057.50 613.3V623.9M1058.50 613.3V629.3M1059.50 613.3V625.3M1060.50 613.3V632.5M1061.50 613.3V629.5M1062.50 613.3V627.7M1063.50 613.3V626.3M1064.50 613.3V626.8M1065.50 613.3V629.5M1066.50 613.3V631.5M1067.50 613.3V641.2M1068.50 613.3V640.5M1069.50 613.3V627.6M1070.50 613.3V625.9M1071.50 613.3V632.1M1072.50 613.3V628.0M1073.50 613.3V625.2M1074.50 613.3V626.0M1075.50 613.3V625.5M1076.50 613.3V624.7M1077.50 613.3V626.5M1078.50 613.3V626.7M1079.50 613.3V627.5M1080.50 613.3V624.0M1081.50 613.3V628.3M1082.50 613.3V623.8M1083.50 613.3V627.1M1084.50 613.3V628.1M1085.50 613.3V626.7M1086.50 613.3V626.8M1087.50 613.3V624.1M1088.50 613.3V628.7M1089.50 613.3V624.0M1090.50 613.3V626.8M1091.50 613.3V625.3M1092.50 613.3V626.4M1093.50 613.3V625.7M1094.50 613.3V627.4M1095.50 613.3V626.5M1096.50 613.3V636.4M1097.50 613.3V629.3M1098.50 613.3V627.4M1099.50 613.3V627.2M1100.50 613.3V627.9M1101.50 613.3V632.1M1102.50 613.3V637.8M1103.50 613.3V629.3M1104.50 613.3V625.4M1105.50 613.3V630.3M1106.50 613.3V628.4M1107.50 613.3V628.6M1108.50 613.3V627.3M1109.50 613.3V628.4M1110.50 613.3V627.0M1111.50 613.3V628.2M1112.50 613.3V636.8M1113.50 613.3V628.3M1114.50 613.3V625.4M1115.50 613.3V628.1M1116.50 613.3V628.1M1117.50 613.3V641.7M1118.50 613.3V628.6M1119.50 613.3V628.8M1120.50 613.3V638.9M1121.50 613.3V634.4M1122.50 613.3V632.6M1123.50 613.3V637.3M1124.50 613.3V627.4M1125.50 613.3V631.8M1126.50 613.3V628.2M1127.50 613.3V629.8M1128.50 613.3V639.8M1129.50 613.3V631.6M1130.50 613.3V632.8M1131.50 613.3V645.8M1132.50 613.3V630.9M1133.50 613.3V628.9M1134.50 613.3V634.0M1135.50 613.3V630.9M1136.50 613.3V638.6M1137.50 613.3V636.9M1138.50 613.3V628.5M1139.50 613.3V628.5M1140.50 613.3V627.7M1141.50 613.3V632.5M1142.50 613.3V630.3M1143.50 613.3V634.6M1144.50 613.3V635.7M1145.50 613.3V656.9M1146.50 613.3V641.9M1147.50 613.3V638.3M1148.50 613.3V631.3M1149.50 613.3V680.9M1150.50 613.3V637.9M1151.50 613.3V646.6M1152.50 613.3V642.5M1153.50 613.3V632.2M1154.50 613.3V631.2M1155.50 613.3V651.1M1156.50 613.3V636.6M1157.50 613.3V646.0M1158.50 613.3V641.1M1159.50 613.3V640.2M1160.50 613.3V640.4M1161.50 613.3V664.9M1162.50 613.3V631.2M1163.50 613.3V630.9M1164.50 613.3V645.6M1165.50 613.3V660.9M1166.50 613.3V635.2M1167.50 613.3V641.5M1168.50 613.3V637.7M1169.50 613.3V648.1M1170.50 613.3V684.7M1171.50 613.3V649.3M1172.50 613.3V643.5M1173.50 613.3V673.4M1174.50 613.3V661.5M1175.50 613.3V646.4M1176.50 613.3V637.5M1177.50 613.3V658.1M1178.50 613.3V657.2M1179.50 613.3V653.0M1180.50 613.3V664.2M1181.50 613.3V634.7M1182.50 613.3V650.6M1183.50 613.3V638.0M1184.50 613.3V652.8M1185.50 613.3V658.0M1186.50 613.3V661.8M1187.50 613.3V649.9M1188.50 613.3V637.3M1189.50 613.3V649.4M1190.50 613.3V644.7M1191.50 613.3V651.8M1192.50 613.3V651.5M1193.50 613.3V664.2M1194.50 613.3V640.0M1195.50 613.3V651.4M1196.50 613.3V647.1M1197.50 613.3V643.4M1198.50 613.3V640.3M1199.50 613.3V687.0M1200.50 613.3V636.3M1201.50 613.3V645.6M1202.50 613.3V671.3M1203.50 613.3V635.2M1204.50 613.3V638.8M1205.50 613.3V654.1M1206.50 613.3V658.5M1207.50 613.3V641.2M1208.50 613.3V643.2M1209.50 613.3V640.4M1210.50 613.3V644.5M1211.50 613.3V636.2M1212.50 613.3V634.8M1213.50 613.3V654.1M1214.50 613.3V652.4M1215.50 613.3V641.2M1216.50 613.3V671.0M1217.50 613.3V643.9M1218.50 613.3V659.8M1219.50 613.3V709.0M1220.50 613.3V646.7M1221.50 613.3V644.5M1222.50 613.3V646.6M1223.50 613.3V648.7M1224.50 613.3V642.4M1225.50 613.3V684.0M1226.50 613.3V641.0M1227.50 613.3V655.5M1228.50 613.3V637.6M1229.50 613.3V683.1M1230.50 613.3V646.6M1231.50 613.3V659.3M1232.50 613.3V641.5M1233.50 613.3V657.5M1234.50 613.3V654.7M1235.50 613.3V657.8M1236.50 613.3V637.2M1237.50 613.3V634.6M1238.50 613.3V656.6M1239.50 613.3V644.4M1240.50 613.3V637.1M1241.50 613.3V646.7M1242.50 613.3V633.8M1243.50 613.3V683.2M1244.50 613.3V648.4M1245.50 613.3V640.1M1246.50 613.3V636.9M1247.50 613.3V658.4M1248.50 613.3V634.4M1249.50 613.3V690.2M1250.50 613.3V649.6M1251.50 613.3V648.5M1252.50 613.3V687.9M1253.50 613.3V648.3M1254.50 613.3V668.8M1255.50 613.3V661.8M1256.50 613.3V637.1M1257.50 613.3V647.0M1258.50 613.3V639.0M1259.50 613.3V635.1M1260.50 613.3V643.3M1261.50 613.3V679.6M1262.50 613.3V638.6M1263.50 613.3V687.3M1264.50 613.3V675.4M1265.50 613.3V659.6M1266.50 613.3V639.6M1267.50 613.3V654.3M1268.50 613.3V646.9M1269.50 613.3V640.2M1270.50 613.3V658.4M1271.50 613.3V638.1M1272.50 613.3V647.6M1273.50 613.3V705.4M1274.50 613.3V647.2M1275.50 613.3V640.2M1276.50 613.3V657.3M1277.50 613.3V645.4M1278.50 613.3V658.7M1279.50 613.3V641.6M1280.50 613.3V641.3M1281.50 613.3V649.4M1282.50 613.3V646.7M1283.50 613.3V667.9M1284.50 613.3V637.7M1285.50 613.3V671.0M1286.50 613.3V641.7M1287.50 613.3V635.4M1288.50 613.3V639.1M1289.50 613.3V662.4M1290.50 613.3V639.5M1291.50 613.3V643.7M1292.50 613.3V641.7M1293.50 613.3V641.1M1294.50 613.3V640.0M1295.50 613.3V663.9M1296.50 613.3V653.4M1297.50 613.3V647.4M1298.50 613.3V653.5M1299.50 613.3V647.4M1300.50 613.3V635.0M1301.50 613.3V646.7M1302.50 613.3V635.6M1303.50 613.3V648.8M1304.50 613.3V642.0M1305.50 613.3V658.3M1306.50 613.3V637.7M1307.50 613.3V639.4M1308.50 613.3V644.3M1309.50 613.3V653.6M1310.50 613.3V647.6M1311.50 613.3V655.2M1312.50 613.3V650.8M1313.50 613.3V637.8M1314.50 613.3V661.5M1315.50 613.3V641.1M1316.50 613.3V643.2M1317.50 613.3V648.7M1318.50 613.3V639.6M1319.50 613.3V653.3M1320.50 613.3V644.4M1321.50 613.3V655.9M1322.50 613.3V653.3M1323.50 613.3V645.4M1324.50 613.3V662.1M1325.50 613.3V644.3M1326.50 613.3V676.7M1327.50 613.3V640.3M1328.50 613.3V655.7M1329.50 613.3V635.6M1330.50 613.3V640.4M1331.50 613.3V642.4M1332.50 613.3V638.8M1333.50 613.3V652.0M1334.50 613.3V656.5M1335.50 613.3V634.2M1336.50 613.3V638.3M1337.50 613.3V637.3M1338.50 613.3V660.4M1339.50 613.3V641.0M1340.50 613.3V638.6M1341.50 613.3V640.8M1342.50 613.3V647.0M1343.50 613.3V655.9M1344.50 613.3V637.8M1345.50 613.3V645.8M1346.50 613.3V626.6M1347.50 613.3V637.5M1348.50 613.3V627.1M1349.50 613.3V644.4M1350.50 613.3V633.1M1351.50 613.3V629.9M1352.50 613.3V637.9M1353.50 613.3V634.3M1354.50 613.3V625.7M1355.50 613.3V633.3M1356.50 613.3V645.0M1357.50 613.3V648.2M1358.50 613.3V651.0M1359.50 613.3V640.2M1360.50 613.3V640.8M1361.50 613.3V677.3M1362.50 613.3V664.2M1363.50 613.3V644.8M1364.50 613.3V652.8M1365.50 613.3V644.5M1366.50 613.3V643.7M1367.50 613.3V651.3M1368.50 613.3V642.3M1369.50 613.3V663.2M1370.50 613.3V643.7M1371.50 613.3V668.5M1372.50 613.3V674.8M1373.50 613.3V646.1M1374.50 613.3V642.8M1375.50 613.3V665.9M1376.50 613.3V660.7M1377.50 613.3V641.3M1378.50 613.3V664.1M1379.50 613.3V646.3M1380.50 613.3V659.1M1381.50 613.3V639.9M1382.50 613.3V641.0M1383.50 613.3V635.3M1384.50 613.3V637.7M1385.50 613.3V658.1M1386.50 613.3V640.1M1387.50 613.3V644.5M1388.50 613.3V658.2M1389.50 613.3V654.8M1390.50 613.3V663.6M1391.50 613.3V638.4M1392.50 613.3V652.6M1393.50 613.3V652.7M1394.50 613.3V657.6M1395.50 613.3V635.8M1396.50 613.3V640.1M1397.50 613.3V637.9M1398.50 613.3V641.4M1399.50 613.3V648.7M1400.50 613.3V645.7M1401.50 613.3V639.0M1402.50 613.3V634.5M1403.50 613.3V644.9M1404.50 613.3V650.0M1405.50 613.3V646.1M1406.50 613.3V639.3M1407.50 613.3V657.8M1408.50 613.3V675.3M1409.50 613.3V655.7M1410.50 613.3V638.5M1411.50 613.3V642.6M1412.50 613.3V685.6M1413.50 613.3V657.9M1414.50 613.3V649.4M1415.50 613.3V638.9M1416.50 613.3V656.1M1417.50 613.3V699.4M1418.50 613.3V651.9M1419.50 613.3V653.3M1420.50 613.3V644.9M1421.50 613.3V664.6M1422.50 613.3V649.9M1423.50 613.3V635.7M1424.50 613.3V663.8M1425.50 613.3V640.8M1426.50 613.3V643.3M1427.50 613.3V654.1M1428.50 613.3V639.6M1429.50 613.3V652.2M1430.50 613.3V649.9M1431.50 613.3V644.9M1432.50 613.3V637.0M1433.50 613.3V643.3M1434.50 613.3V658.1M1435.50 613.3V637.9M1436.50 613.3V642.1M1437.50 613.3V662.7M1438.50 613.3V639.6M1439.50 613.3V640.8M1440.50 613.3V655.8M1441.50 613.3V651.2M1442.50 613.3V635.9M1443.50 613.3V645.3M1444.50 613.3V636.7M1445.50 613.3V652.1M1446.50 613.3V652.1M1447.50 613.3V672.0M1448.50 613.3V688.8M1449.50 613.3V641.0M1450.50 613.3V641.6M1451.50 613.3V661.8M1452.50 613.3V652.0M1453.50 613.3V650.3M1454.50 613.3V643.0M1455.50 613.3V665.8M1456.50 613.3V705.9M1457.50 613.3V655.9M1458.50 613.3V639.8M1459.50 613.3V652.2M1460.50 613.3V653.1M1461.50 613.3V636.6M1462.50 613.3V642.6M1463.50 613.3V638.7M1464.50 613.3V639.1M1465.50 613.3V640.3M1466.50 613.3V639.7M1467.50 613.3V647.7M1468.50 613.3V639.6M1469.50 613.3V635.3M1470.50 613.3V683.9M1471.50 613.3V635.5M1472.50 613.3V662.6M1473.50 613.3V669.6M1474.50 613.3V642.8M1475.50 613.3V641.1M1476.50 613.3V638.3M1477.50 613.3V637.9M1478.50 613.3V640.5M1479.50 613.3V635.3M1480.50 613.3V640.8M1481.50 613.3V648.3M1482.50 613.3V666.0M1483.50 613.3V641.8M1484.50 613.3V640.1M1485.50 613.3V649.9M1486.50 613.3V655.6M1487.50 613.3V653.5M1488.50 613.3V644.0M1489.50 613.3V647.6M1490.50 613.3V639.3M1491.50 613.3V649.0M1492.50 613.3V647.9M1493.50 613.3V644.4M1494.50 613.3V641.3M1495.50 613.3V638.8M1496.50 613.3V638.9M1497.50 613.3V649.0M1498.50 613.3V657.3M1499.50 613.3V652.3M1500.50 613.3V645.6M1501.50 613.3V639.4M1502.50 613.3V639.9M1503.50 613.3V639.3M1504.50 613.3V641.2M1505.50 613.3V637.8M1506.50 613.3V636.1M1507.50 613.3V648.6M1508.50 613.3V644.9M1509.50 613.3V639.0M1510.50 613.3V636.9M1511.50 613.3V641.5M1512.50 613.3V649.4M1513.50 613.3V645.4M1514.50 613.3V659.9M1515.50 613.3V667.5M1516.50 613.3V647.2M1517.50 613.3V648.8M1518.50 613.3V638.4M1519.50 613.3V648.8M1520.50 613.3V642.3M1521.50 613.3V646.0M1522.50 613.3V652.8M1523.50 613.3V637.3M1524.50 613.3V642.5M1525.50 613.3V644.5M1526.50 613.3V644.6M1527.50 613.3V641.5M1528.50 613.3V653.1M1529.50 613.3V646.5M1530.50 613.3V640.4M1531.50 613.3V653.6M1532.50 613.3V647.0M1533.50 613.3V656.9M1534.50 613.3V654.4M1535.50 613.3V644.3M1536.50 613.3V634.9M1537.50 613.3V645.3M1538.50 613.3V643.4M1539.50 613.3V648.5M1540.50 613.3V623.0M1541.50 613.3V626.1M1542.50 613.3V631.4M1543.50 613.3V622.6M1544.50 613.3V624.9M1545.50 613.3V625.7M1546.50 613.3V623.8M1547.50 613.3V623.6M1548.50 613.3V627.9" stroke="#000" stroke-width="1.0" fill="none"/>
<rect x="979.5" y="612.8" width="569.1" height="6.5" fill="#050505"/>
<path d="M1019.5 613.3V639.1M1035.7 613.3V646.0M1055.4 613.3V653.6M1061.7 613.3V635.1M1076.8 613.3V632.8M1091.8 613.3V638.0M1102.2 613.3V638.5M1111.2 613.3V654.7M1114.4 613.3V640.9M1130.0 613.3V699.3M1137.5 613.3V642.0M1145.0 613.3V675.5M1149.6 613.3V640.9M1152.0 613.3V714.3M1154.8 613.3V684.8M1158.9 613.3V709.7M1161.8 613.3V673.8M1170.7 613.3V703.5M1179.0 613.3V669.7M1191.4 613.3V651.9M1215.8 613.3V651.3M1227.6 613.3V665.5M1237.7 613.3V669.7M1245.7 613.3V682.7M1256.4 613.3V679.8M1259.7 613.3V667.9M1264.4 613.3V666.7M1270.7 613.3V669.7M1274.2 613.3V678.6M1277.5 613.3V671.5M1290.0 613.3V667.9M1296.2 613.3V672.1M1312.1 613.3V705.3M1316.1 613.3V697.6M1320.2 613.3V672.6M1324.1 613.3V669.1M1328.5 613.3V678.6M1332.7 613.3V671.5M1343.4 613.3V684.5M1338.6 613.3V653.7M1359.4 613.3V649.3M1372.5 613.3V671.1M1376.6 613.3V682.4M1382.2 613.3V668.6M1396.8 613.3V665.5M1407.4 613.3V674.2M1420.9 613.3V669.9M1425.9 613.3V694.8M1428.0 613.3V681.7M1433.3 613.3V678.6M1435.8 613.3V679.2M1439.2 613.3V671.1M1453.3 613.3V683.6M1461.9 613.3V666.1M1469.8 613.3V670.5M1474.1 613.3V668.6M1476.6 613.3V708.6M1482.3 613.3V676.1M1484.5 613.3V678.6M1492.2 613.3V669.3M1496.6 613.3V667.4M1503.2 613.3V663.6M1508.2 613.3V667.4M1530.9 613.3V654.9M1539.7 613.3V668.6" stroke="#111" stroke-width="1.1" fill="none"/>
<path d="M1042.4 613.3L1043.2 743.5M1043.0 613.3Q1044.5 700 1045.9 807.8M1057.6 613.3L1057.9 836.4M1510.5 613.3V910.3" stroke="#111" stroke-width="1.5" fill="none"/>
<rect x="1543.5" y="613.3" width="5" height="10" fill="#050505"/>
<path d="M1041.4 614.6L1046.2 614.6L1044.6 626L1043.2 626Z" fill="#fff"/>
<path d="M1042.6 614.2Q1043.6 700 1045.9 807.8" stroke="#111" stroke-width="1.6" fill="none"/>
<path d="M957.0 613.3V931.7M949.1 613.3H957.0M949.1 684.3H957.0M949.1 755.4H957.0M949.1 826.5H957.0M949.1 897.5H957.0" stroke="#1a1a1a" stroke-width="1.2" fill="none"/>
<g font-family="Liberation Sans, Arial, sans-serif" font-size="14.5" fill="#111"><text transform="translate(939.2 613.3) rotate(-90)" text-anchor="middle">1.0</text><text transform="translate(939.2 684.3) rotate(-90)" text-anchor="middle">0.9</text><text transform="translate(939.2 755.4) rotate(-90)" text-anchor="middle">0.8</text><text transform="translate(939.2 826.5) rotate(-90)" text-anchor="middle">0.7</text><text transform="translate(939.2 897.5) rotate(-90)" text-anchor="middle">0.6</text></g>
<text transform="translate(905.6 765.9) rotate(-90)" text-anchor="middle" font-family="Liberation Sans, Arial, sans-serif" font-size="13.4" fill="#111">Height</text>
<text x="1263.7" y="583.3" text-anchor="middle" font-family="Liberation Sans, Arial, sans-serif" font-weight="bold" font-size="15.5" fill="#111">Cluster Dendrogram</text>
<g><rect x="979.40" y="935.5" width="7.22" height="109.7" fill="#bebebe"/><rect x="986.50" y="935.5" width="0.77" height="109.7" fill="#8cf53c"/><rect x="987.15" y="935.5" width="1.30" height="109.7" fill="#c080d8"/><rect x="988.33" y="935.5" width="0.75" height="109.7" fill="#8cf53c"/><rect x="988.96" y="935.5" width="1.28" height="109.7" fill="#8cf53c"/><rect x="990.12" y="935.5" width="0.88" height="109.7" fill="#bebebe"/><rect x="990.89" y="935.5" width="1.28" height="109.7" fill="#c8f540"/><rect x="992.05" y="935.5" width="0.91" height="109.7" fill="#f0bcc8"/><rect x="992.84" y="935.5" width="0.92" height="109.7" fill="#ffff33"/><rect x="993.64" y="935.5" width="0.81" height="109.7" fill="#bebebe"/><rect x="994.33" y="935.5" width="1.07" height="109.7" fill="#8cf53c"/><rect x="995.28" y="935.5" width="1.28" height="109.7" fill="#8cf53c"/><rect x="996.44" y="935.5" width="1.34" height="109.7" fill="#c080d8"/><rect x="997.66" y="935.5" width="1.02" height="109.7" fill="#cdb28c"/><rect x="998.56" y="935.5" width="0.75" height="109.7" fill="#bebebe"/><rect x="999.18" y="935.5" width="1.08" height="109.7" fill="#bebebe"/><rect x="1000.15" y="935.5" width="1.17" height="109.7" fill="#bebebe"/><rect x="1001.20" y="935.5" width="0.97" height="109.7" fill="#c080d8"/><rect x="1002.05" y="935.5" width="0.69" height="109.7" fill="#bebebe"/><rect x="1002.62" y="935.5" width="0.97" height="109.7" fill="#bebebe"/><rect x="1003.48" y="935.5" width="1.20" height="109.7" fill="#bebebe"/><rect x="1004.55" y="935.5" width="1.29" height="109.7" fill="#0000f0"/><rect x="1005.73" y="935.5" width="1.25" height="109.7" fill="#dc00f0"/><rect x="1006.86" y="935.5" width="0.85" height="109.7" fill="#8cf53c"/><rect x="1007.58" y="935.5" width="1.03" height="109.7" fill="#8a2be2"/><rect x="1008.49" y="935.5" width="0.89" height="109.7" fill="#dc00f0"/><rect x="1009.27" y="935.5" width="1.15" height="109.7" fill="#8b2e2e"/><rect x="1010.30" y="935.5" width="1.34" height="109.7" fill="#bebebe"/><rect x="1011.52" y="935.5" width="0.86" height="109.7" fill="#dc00f0"/><rect x="1012.26" y="935.5" width="1.07" height="109.7" fill="#c8f540"/><rect x="1013.21" y="935.5" width="0.78" height="109.7" fill="#bebebe"/><rect x="1013.87" y="935.5" width="0.88" height="109.7" fill="#cdb28c"/><rect x="1014.62" y="935.5" width="1.40" height="109.7" fill="#c080d8"/><rect x="1015.90" y="935.5" width="1.31" height="109.7" fill="#c080d8"/><rect x="1017.09" y="935.5" width="1.39" height="109.7" fill="#8cf53c"/><rect x="1018.36" y="935.5" width="1.27" height="109.7" fill="#bebebe"/><rect x="1019.51" y="935.5" width="1.16" height="109.7" fill="#8cf53c"/><rect x="1020.55" y="935.5" width="0.86" height="109.7" fill="#f0bcc8"/><rect x="1021.29" y="935.5" width="1.38" height="109.7" fill="#cdb28c"/><rect x="1022.55" y="935.5" width="1.14" height="109.7" fill="#bebebe"/><rect x="1023.57" y="935.5" width="0.89" height="109.7" fill="#88ddd0"/><rect x="1024.35" y="935.5" width="0.64" height="109.7" fill="#bebebe"/><rect x="1024.87" y="935.5" width="1.16" height="109.7" fill="#cdb28c"/><rect x="1025.91" y="935.5" width="0.69" height="109.7" fill="#8cf53c"/><rect x="1026.48" y="935.5" width="0.92" height="109.7" fill="#f0bcc8"/><rect x="1027.28" y="935.5" width="0.95" height="109.7" fill="#cdb28c"/><rect x="1028.11" y="935.5" width="1.07" height="109.7" fill="#8a2be2"/><rect x="1029.06" y="935.5" width="0.71" height="109.7" fill="#bebebe"/><rect x="1029.65" y="935.5" width="1.33" height="109.7" fill="#f0bcc8"/><rect x="1030.86" y="935.5" width="0.71" height="109.7" fill="#0000f0"/><rect x="1031.45" y="935.5" width="0.82" height="109.7" fill="#bebebe"/><rect x="1032.16" y="935.5" width="1.04" height="109.7" fill="#bebebe"/><rect x="1033.08" y="935.5" width="1.01" height="109.7" fill="#f0bcc8"/><rect x="1033.97" y="935.5" width="0.80" height="109.7" fill="#f0bcc8"/><rect x="1034.65" y="935.5" width="0.71" height="109.7" fill="#cdb28c"/><rect x="1035.25" y="935.5" width="1.09" height="109.7" fill="#bebebe"/><rect x="1036.22" y="935.5" width="0.95" height="109.7" fill="#bebebe"/><rect x="1037.04" y="935.5" width="0.97" height="109.7" fill="#0000f0"/><rect x="1037.89" y="935.5" width="1.06" height="109.7" fill="#8cf53c"/><rect x="1038.83" y="935.5" width="1.23" height="109.7" fill="#bebebe"/><rect x="1039.94" y="935.5" width="1.41" height="109.7" fill="#8cf53c"/><rect x="1041.23" y="935.5" width="0.70" height="109.7" fill="#ffff33"/><rect x="1041.81" y="935.5" width="0.93" height="109.7" fill="#bebebe"/><rect x="1042.63" y="935.5" width="1.39" height="109.7" fill="#f0bcc8"/><rect x="1043.90" y="935.5" width="1.24" height="109.7" fill="#bebebe"/><rect x="1045.02" y="935.5" width="1.24" height="109.7" fill="#bebebe"/><rect x="1046.14" y="935.5" width="0.81" height="109.7" fill="#c8f540"/><rect x="1046.83" y="935.5" width="0.63" height="109.7" fill="#8cf53c"/><rect x="1047.34" y="935.5" width="0.79" height="109.7" fill="#bebebe"/><rect x="1048.01" y="935.5" width="1.11" height="109.7" fill="#dc00f0"/><rect x="1049.00" y="935.5" width="1.33" height="109.7" fill="#8cf53c"/><rect x="1050.21" y="935.5" width="1.32" height="109.7" fill="#f0bcc8"/><rect x="1051.41" y="935.5" width="1.35" height="109.7" fill="#0000f0"/><rect x="1052.64" y="935.5" width="0.75" height="109.7" fill="#ffff33"/><rect x="1053.28" y="935.5" width="0.89" height="109.7" fill="#ffff33"/><rect x="1054.05" y="935.5" width="1.16" height="109.7" fill="#0000f0"/><rect x="1055.09" y="935.5" width="0.72" height="109.7" fill="#dc00f0"/><rect x="1055.69" y="935.5" width="1.21" height="109.7" fill="#c080d8"/><rect x="1056.78" y="935.5" width="1.20" height="109.7" fill="#bebebe"/><rect x="1057.86" y="935.5" width="1.10" height="109.7" fill="#bebebe"/><rect x="1058.84" y="935.5" width="1.06" height="109.7" fill="#ffff33"/><rect x="1059.78" y="935.5" width="0.71" height="109.7" fill="#dc0000"/><rect x="1060.37" y="935.5" width="1.16" height="109.7" fill="#8a2be2"/><rect x="1061.41" y="935.5" width="0.77" height="109.7" fill="#dc00f0"/><rect x="1062.07" y="935.5" width="1.29" height="109.7" fill="#f0bcc8"/><rect x="1063.24" y="935.5" width="0.71" height="109.7" fill="#bebebe"/><rect x="1063.83" y="935.5" width="0.71" height="109.7" fill="#ffff33"/><rect x="1064.42" y="935.5" width="0.77" height="109.7" fill="#f0bcc8"/><rect x="1065.07" y="935.5" width="0.85" height="109.7" fill="#8b2e2e"/><rect x="1065.80" y="935.5" width="0.92" height="109.7" fill="#bebebe"/><rect x="1066.60" y="935.5" width="1.32" height="109.7" fill="#cdb28c"/><rect x="1067.80" y="935.5" width="1.17" height="109.7" fill="#0000f0"/><rect x="1068.85" y="935.5" width="1.38" height="109.7" fill="#bebebe"/><rect x="1070.11" y="935.5" width="0.89" height="109.7" fill="#bebebe"/><rect x="1070.89" y="935.5" width="1.02" height="109.7" fill="#0000f0"/><rect x="1071.79" y="935.5" width="1.26" height="109.7" fill="#bebebe"/><rect x="1072.93" y="935.5" width="0.77" height="109.7" fill="#0000f0"/><rect x="1073.57" y="935.5" width="1.16" height="109.7" fill="#dc00f0"/><rect x="1074.62" y="935.5" width="1.00" height="109.7" fill="#bebebe"/><rect x="1075.50" y="935.5" width="1.30" height="109.7" fill="#dc00f0"/><rect x="1076.67" y="935.5" width="1.32" height="109.7" fill="#f0bcc8"/><rect x="1077.87" y="935.5" width="0.68" height="109.7" fill="#8a2be2"/><rect x="1078.43" y="935.5" width="0.79" height="109.7" fill="#88ddd0"/><rect x="1079.11" y="935.5" width="1.09" height="109.7" fill="#bebebe"/><rect x="1080.08" y="935.5" width="0.76" height="109.7" fill="#dc00f0"/><rect x="1080.71" y="935.5" width="0.99" height="109.7" fill="#f0bcc8"/><rect x="1081.59" y="935.5" width="0.93" height="109.7" fill="#dc00f0"/><rect x="1082.40" y="935.5" width="0.62" height="109.7" fill="#f0bcc8"/><rect x="1082.90" y="935.5" width="0.89" height="109.7" fill="#bebebe"/><rect x="1083.67" y="935.5" width="0.99" height="109.7" fill="#c080d8"/><rect x="1084.54" y="935.5" width="0.66" height="109.7" fill="#bebebe"/><rect x="1085.07" y="935.5" width="1.16" height="109.7" fill="#8a2be2"/><rect x="1086.11" y="935.5" width="0.84" height="109.7" fill="#cdb28c"/><rect x="1086.83" y="935.5" width="0.83" height="109.7" fill="#f0bcc8"/><rect x="1087.54" y="935.5" width="1.04" height="109.7" fill="#c080d8"/><rect x="1088.46" y="935.5" width="1.41" height="109.7" fill="#bebebe"/><rect x="1089.76" y="935.5" width="1.07" height="109.7" fill="#ffff33"/><rect x="1090.70" y="935.5" width="1.32" height="109.7" fill="#ffff33"/><rect x="1091.90" y="935.5" width="1.13" height="109.7" fill="#8cf53c"/><rect x="1092.91" y="935.5" width="0.91" height="109.7" fill="#8a2be2"/><rect x="1093.70" y="935.5" width="1.26" height="109.7" fill="#0000f0"/><rect x="1094.83" y="935.5" width="1.37" height="109.7" fill="#8b2e2e"/><rect x="1096.09" y="935.5" width="0.86" height="109.7" fill="#ffff33"/><rect x="1096.83" y="935.5" width="1.21" height="109.7" fill="#cdb28c"/><rect x="1097.92" y="935.5" width="1.13" height="109.7" fill="#dc00f0"/><rect x="1098.93" y="935.5" width="1.06" height="109.7" fill="#dc00f0"/><rect x="1099.87" y="935.5" width="0.67" height="109.7" fill="#8a2be2"/><rect x="1100.42" y="935.5" width="0.88" height="109.7" fill="#c080d8"/><rect x="1101.18" y="935.5" width="1.01" height="109.7" fill="#dc00f0"/><rect x="1102.06" y="935.5" width="0.81" height="109.7" fill="#8a2be2"/><rect x="1102.76" y="935.5" width="0.90" height="109.7" fill="#bebebe"/><rect x="1103.54" y="935.5" width="0.63" height="109.7" fill="#0000f0"/><rect x="1104.04" y="935.5" width="0.98" height="109.7" fill="#dc00f0"/><rect x="1104.90" y="935.5" width="1.07" height="109.7" fill="#8a2be2"/><rect x="1105.86" y="935.5" width="0.76" height="109.7" fill="#bebebe"/><rect x="1106.49" y="935.5" width="0.86" height="109.7" fill="#8a2be2"/><rect x="1107.24" y="935.5" width="1.20" height="109.7" fill="#cdb28c"/><rect x="1108.32" y="935.5" width="1.37" height="109.7" fill="#8a2be2"/><rect x="1109.57" y="935.5" width="1.36" height="109.7" fill="#f0bcc8"/><rect x="1110.80" y="935.5" width="0.68" height="109.7" fill="#c8f540"/><rect x="1111.37" y="935.5" width="1.08" height="109.7" fill="#c080d8"/><rect x="1112.33" y="935.5" width="0.91" height="109.7" fill="#ffff33"/><rect x="1113.12" y="935.5" width="0.96" height="109.7" fill="#0000f0"/><rect x="1113.96" y="935.5" width="0.67" height="109.7" fill="#cdb28c"/><rect x="1114.51" y="935.5" width="1.34" height="109.7" fill="#8a2be2"/><rect x="1115.73" y="935.5" width="0.83" height="109.7" fill="#bebebe"/><rect x="1116.44" y="935.5" width="0.75" height="109.7" fill="#8a2be2"/><rect x="1117.07" y="935.5" width="1.18" height="109.7" fill="#c8f540"/><rect x="1118.13" y="935.5" width="0.94" height="109.7" fill="#c8f540"/><rect x="1118.95" y="935.5" width="1.10" height="109.7" fill="#0000f0"/><rect x="1119.94" y="935.5" width="1.14" height="109.7" fill="#c8f540"/><rect x="1120.96" y="935.5" width="1.21" height="109.7" fill="#c080d8"/><rect x="1122.04" y="935.5" width="1.10" height="109.7" fill="#bebebe"/><rect x="1123.02" y="935.5" width="1.27" height="109.7" fill="#0000f0"/><rect x="1124.17" y="935.5" width="0.89" height="109.7" fill="#bebebe"/><rect x="1124.94" y="935.5" width="0.77" height="109.7" fill="#cdb28c"/><rect x="1125.59" y="935.5" width="1.32" height="109.7" fill="#8cf53c"/><rect x="1126.79" y="935.5" width="1.36" height="109.7" fill="#c8f540"/><rect x="1128.03" y="935.5" width="0.88" height="109.7" fill="#ffff33"/><rect x="1128.79" y="935.5" width="1.14" height="109.7" fill="#dc00f0"/><rect x="1129.81" y="935.5" width="1.16" height="109.7" fill="#8a2be2"/><rect x="1130.86" y="935.5" width="0.67" height="109.7" fill="#dc00f0"/><rect x="1131.40" y="935.5" width="0.66" height="109.7" fill="#8cf53c"/><rect x="1131.94" y="935.5" width="0.89" height="109.7" fill="#cdb28c"/><rect x="1132.71" y="935.5" width="1.10" height="109.7" fill="#8a2be2"/><rect x="1133.68" y="935.5" width="0.99" height="109.7" fill="#bebebe"/><rect x="1134.56" y="935.5" width="1.36" height="109.7" fill="#f0bcc8"/><rect x="1135.80" y="935.5" width="1.41" height="109.7" fill="#bebebe"/><rect x="1137.09" y="935.5" width="1.03" height="109.7" fill="#ffff33"/><rect x="1138.00" y="935.5" width="1.28" height="109.7" fill="#c8f540"/><rect x="1139.16" y="935.5" width="0.93" height="109.7" fill="#c8f540"/><rect x="1139.97" y="935.5" width="2.15" height="109.7" fill="#c8f540"/><rect x="1142.01" y="935.5" width="2.25" height="109.7" fill="#c8f540"/><rect x="1144.13" y="935.5" width="1.70" height="109.7" fill="#c8f540"/><rect x="1145.71" y="935.5" width="1.73" height="109.7" fill="#c8f540"/><rect x="1147.32" y="935.5" width="1.80" height="109.7" fill="#c8f540"/><rect x="1149.00" y="935.5" width="1.73" height="109.7" fill="#c8f540"/><rect x="1150.61" y="935.5" width="1.69" height="109.7" fill="#ffff33"/><rect x="1152.18" y="935.5" width="1.78" height="109.7" fill="#c8f540"/><rect x="1153.84" y="935.5" width="1.78" height="109.7" fill="#dc00f0"/><rect x="1155.50" y="935.5" width="1.30" height="109.7" fill="#c8f540"/><rect x="1156.68" y="935.5" width="0.24" height="109.7" fill="#dc00f0"/><rect x="1156.80" y="935.5" width="16.02" height="109.7" fill="#cdb28c"/><rect x="1172.70" y="935.5" width="0.65" height="109.7" fill="#88ddd0"/><rect x="1173.23" y="935.5" width="1.00" height="109.7" fill="#dc0000"/><rect x="1174.11" y="935.5" width="1.29" height="109.7" fill="#ffff33"/><rect x="1175.28" y="935.5" width="1.51" height="109.7" fill="#0000f0"/><rect x="1176.67" y="935.5" width="1.28" height="109.7" fill="#88ddd0"/><rect x="1177.83" y="935.5" width="0.55" height="109.7" fill="#88ddd0"/><rect x="1178.26" y="935.5" width="0.58" height="109.7" fill="#dc0000"/><rect x="1178.72" y="935.5" width="1.08" height="109.7" fill="#0000f0"/><rect x="1179.67" y="935.5" width="1.46" height="109.7" fill="#ffff33"/><rect x="1181.01" y="935.5" width="0.67" height="109.7" fill="#0000f0"/><rect x="1181.56" y="935.5" width="1.26" height="109.7" fill="#bebebe"/><rect x="1182.70" y="935.5" width="0.68" height="109.7" fill="#88ddd0"/><rect x="1183.26" y="935.5" width="1.30" height="109.7" fill="#0000f0"/><rect x="1184.44" y="935.5" width="0.68" height="109.7" fill="#dc0000"/><rect x="1185.00" y="935.5" width="1.67" height="109.7" fill="#dc0000"/><rect x="1186.55" y="935.5" width="1.96" height="109.7" fill="#8b2e2e"/><rect x="1188.39" y="935.5" width="1.10" height="109.7" fill="#c8f540"/><rect x="1189.37" y="935.5" width="0.71" height="109.7" fill="#8b2e2e"/><rect x="1189.96" y="935.5" width="0.64" height="109.7" fill="#8b2e2e"/><rect x="1190.48" y="935.5" width="1.24" height="109.7" fill="#f0bcc8"/><rect x="1191.60" y="935.5" width="0.63" height="109.7" fill="#8b2e2e"/><rect x="1192.11" y="935.5" width="1.26" height="109.7" fill="#c8f540"/><rect x="1193.25" y="935.5" width="2.22" height="109.7" fill="#8b2e2e"/><rect x="1195.35" y="935.5" width="0.92" height="109.7" fill="#dc0000"/><rect x="1196.15" y="935.5" width="0.99" height="109.7" fill="#8b2e2e"/><rect x="1197.03" y="935.5" width="0.94" height="109.7" fill="#dc0000"/><rect x="1197.84" y="935.5" width="1.89" height="109.7" fill="#8b2e2e"/><rect x="1199.61" y="935.5" width="1.06" height="109.7" fill="#8a2be2"/><rect x="1200.55" y="935.5" width="0.91" height="109.7" fill="#8b2e2e"/><rect x="1201.34" y="935.5" width="0.80" height="109.7" fill="#f0bcc8"/><rect x="1202.02" y="935.5" width="2.08" height="109.7" fill="#dc0000"/><rect x="1203.98" y="935.5" width="1.87" height="109.7" fill="#8b2e2e"/><rect x="1205.74" y="935.5" width="1.03" height="109.7" fill="#dc0000"/><rect x="1206.64" y="935.5" width="1.39" height="109.7" fill="#c8f540"/><rect x="1207.92" y="935.5" width="0.81" height="109.7" fill="#8b2e2e"/><rect x="1208.61" y="935.5" width="1.60" height="109.7" fill="#8b2e2e"/><rect x="1210.09" y="935.5" width="1.56" height="109.7" fill="#c8f540"/><rect x="1211.53" y="935.5" width="0.90" height="109.7" fill="#c8f540"/><rect x="1212.31" y="935.5" width="1.17" height="109.7" fill="#8b2e2e"/><rect x="1213.35" y="935.5" width="2.07" height="109.7" fill="#dc0000"/><rect x="1215.31" y="935.5" width="2.08" height="109.7" fill="#8a2be2"/><rect x="1217.26" y="935.5" width="1.06" height="109.7" fill="#dc0000"/><rect x="1218.20" y="935.5" width="0.72" height="109.7" fill="#ffff33"/><rect x="1218.80" y="935.5" width="0.54" height="109.7" fill="#c8f540"/><rect x="1219.22" y="935.5" width="0.79" height="109.7" fill="#8b2e2e"/><rect x="1219.89" y="935.5" width="0.70" height="109.7" fill="#dc0000"/><rect x="1220.46" y="935.5" width="1.66" height="109.7" fill="#dc0000"/><rect x="1222.00" y="935.5" width="17.92" height="109.7" fill="#8a2be2"/><rect x="1239.80" y="935.5" width="15.92" height="109.7" fill="#dc00f0"/><rect x="1255.60" y="935.5" width="9.52" height="109.7" fill="#8b2e2e"/><rect x="1262.80" y="935.5" width="0.92" height="109.7" fill="#dc0000"/><rect x="1265.00" y="935.5" width="18.42" height="109.7" fill="#dc0000"/><rect x="1283.30" y="935.5" width="14.72" height="109.7" fill="#8b2e2e"/><rect x="1297.90" y="935.5" width="0.89" height="109.7" fill="#cdb28c"/><rect x="1298.67" y="935.5" width="1.31" height="109.7" fill="#c8f540"/><rect x="1299.86" y="935.5" width="1.60" height="109.7" fill="#ffff33"/><rect x="1301.34" y="935.5" width="0.78" height="109.7" fill="#c8f540"/><rect x="1302.00" y="935.5" width="1.28" height="109.7" fill="#ffff33"/><rect x="1303.16" y="935.5" width="1.08" height="109.7" fill="#ffff33"/><rect x="1304.11" y="935.5" width="0.99" height="109.7" fill="#ffff33"/><rect x="1304.98" y="935.5" width="0.54" height="109.7" fill="#cdb28c"/><rect x="1305.41" y="935.5" width="0.87" height="109.7" fill="#c8f540"/><rect x="1306.15" y="935.5" width="0.65" height="109.7" fill="#8b2e2e"/><rect x="1306.69" y="935.5" width="0.67" height="109.7" fill="#8b2e2e"/><rect x="1307.24" y="935.5" width="0.72" height="109.7" fill="#c8f540"/><rect x="1307.83" y="935.5" width="0.68" height="109.7" fill="#c8f540"/><rect x="1308.40" y="935.5" width="1.07" height="109.7" fill="#ffff33"/><rect x="1309.35" y="935.5" width="0.91" height="109.7" fill="#8b2e2e"/><rect x="1310.14" y="935.5" width="0.68" height="109.7" fill="#ffff33"/><rect x="1310.70" y="935.5" width="14.32" height="109.7" fill="#ffff33"/><rect x="1324.90" y="935.5" width="10.52" height="109.7" fill="#c8f540"/><rect x="1335.30" y="935.5" width="12.02" height="109.7" fill="#ffff33"/><rect x="1335.30" y="935.5" width="0.82" height="109.7" fill="#8b2e2e"/><rect x="1340.20" y="935.5" width="0.82" height="109.7" fill="#8b2e2e"/><rect x="1347.20" y="935.5" width="0.76" height="109.7" fill="#0000f0"/><rect x="1347.84" y="935.5" width="1.49" height="109.7" fill="#ffff33"/><rect x="1349.21" y="935.5" width="0.82" height="109.7" fill="#8a2be2"/><rect x="1349.91" y="935.5" width="0.81" height="109.7" fill="#8a2be2"/><rect x="1350.60" y="935.5" width="0.57" height="109.7" fill="#bebebe"/><rect x="1351.05" y="935.5" width="0.97" height="109.7" fill="#bebebe"/><rect x="1351.90" y="935.5" width="0.92" height="109.7" fill="#8a2be2"/><rect x="1352.69" y="935.5" width="1.28" height="109.7" fill="#ffff33"/><rect x="1353.85" y="935.5" width="1.12" height="109.7" fill="#bebebe"/><rect x="1354.85" y="935.5" width="1.28" height="109.7" fill="#0000f0"/><rect x="1356.01" y="935.5" width="1.48" height="109.7" fill="#ffff33"/><rect x="1357.37" y="935.5" width="0.95" height="109.7" fill="#bebebe"/><rect x="1358.20" y="935.5" width="26.92" height="109.7" fill="#000000"/><rect x="1385.00" y="935.5" width="1.02" height="109.7" fill="#8a2be2"/><rect x="1385.90" y="935.5" width="0.98" height="109.7" fill="#0000f0"/><rect x="1386.77" y="935.5" width="1.01" height="109.7" fill="#0000f0"/><rect x="1387.66" y="935.5" width="1.72" height="109.7" fill="#0000f0"/><rect x="1389.26" y="935.5" width="1.25" height="109.7" fill="#8a2be2"/><rect x="1390.39" y="935.5" width="0.83" height="109.7" fill="#0000f0"/><rect x="1391.09" y="935.5" width="0.97" height="109.7" fill="#0000f0"/><rect x="1391.94" y="935.5" width="0.76" height="109.7" fill="#0000f0"/><rect x="1392.58" y="935.5" width="1.53" height="109.7" fill="#f0bcc8"/><rect x="1393.99" y="935.5" width="1.61" height="109.7" fill="#0000f0"/><rect x="1395.48" y="935.5" width="1.35" height="109.7" fill="#0000f0"/><rect x="1396.72" y="935.5" width="1.30" height="109.7" fill="#0000f0"/><rect x="1397.89" y="935.5" width="0.90" height="109.7" fill="#8a2be2"/><rect x="1398.67" y="935.5" width="0.52" height="109.7" fill="#f0bcc8"/><rect x="1399.07" y="935.5" width="1.54" height="109.7" fill="#0000f0"/><rect x="1400.50" y="935.5" width="1.23" height="109.7" fill="#8a2be2"/><rect x="1401.61" y="935.5" width="0.80" height="109.7" fill="#0000f0"/><rect x="1402.29" y="935.5" width="1.41" height="109.7" fill="#0000f0"/><rect x="1403.58" y="935.5" width="1.37" height="109.7" fill="#0000f0"/><rect x="1404.84" y="935.5" width="1.15" height="109.7" fill="#0000f0"/><rect x="1405.87" y="935.5" width="1.33" height="109.7" fill="#0000f0"/><rect x="1407.08" y="935.5" width="1.27" height="109.7" fill="#0000f0"/><rect x="1408.23" y="935.5" width="0.79" height="109.7" fill="#0000f0"/><rect x="1408.90" y="935.5" width="0.84" height="109.7" fill="#bebebe"/><rect x="1409.62" y="935.5" width="1.09" height="109.7" fill="#f0bcc8"/><rect x="1410.59" y="935.5" width="1.15" height="109.7" fill="#0000f0"/><rect x="1411.62" y="935.5" width="0.79" height="109.7" fill="#0000f0"/><rect x="1412.28" y="935.5" width="1.63" height="109.7" fill="#0000f0"/><rect x="1413.79" y="935.5" width="1.15" height="109.7" fill="#0000f0"/><rect x="1414.82" y="935.5" width="1.00" height="109.7" fill="#0000f0"/><rect x="1415.70" y="935.5" width="26.62" height="109.7" fill="#0000f0"/><rect x="1442.20" y="935.5" width="13.22" height="109.7" fill="#f0bcc8"/><rect x="1455.30" y="935.5" width="53.62" height="109.7" fill="#88ddd0"/><rect x="1508.80" y="935.5" width="32.12" height="109.7" fill="#8cf53c"/><rect x="1540.80" y="935.5" width="1.12" height="109.7" fill="#8b2e2e"/><rect x="1541.80" y="935.5" width="1.52" height="109.7" fill="#dc0000"/><rect x="1543.20" y="935.5" width="1.32" height="109.7" fill="#8b2e2e"/><rect x="1544.40" y="935.5" width="4.32" height="109.7" fill="#bebebe"/></g><rect x="979.4" y="935.5" width="569.2" height="109.7" fill="none" stroke="#111" stroke-width="1.3"/><line x1="979.4" x2="1548.6" y1="990.4" y2="990.4" stroke="#111" stroke-width="1.3"/>
<text x="973.4" y="967.5" text-anchor="end" font-family="Liberation Sans, Arial, sans-serif" font-size="10.8" fill="#111">Dynamic Tree Cut</text>
<text x="973.4" y="1022.1" text-anchor="end" font-family="Liberation Sans, Arial, sans-serif" font-size="10.8" fill="#111">Merged dynamic</text>
<g shape-rendering="crispEdges"><rect x="258.5" y="1142.30" width="207.0" height="43.60" fill="#75a8f8"/><rect x="465.5" y="1142.30" width="208.4" height="43.60" fill="#e0704e"/><rect x="225.9" y="1142.30" width="28.3" height="43.60" fill="#0000f2"/><rect x="258.5" y="1185.60" width="207.0" height="43.60" fill="#b9d6fb"/><rect x="465.5" y="1185.60" width="208.4" height="43.60" fill="#edbaa8"/><rect x="225.9" y="1185.60" width="28.3" height="43.60" fill="#c8f542"/><rect x="258.5" y="1228.90" width="207.0" height="43.60" fill="#f3f7fe"/><rect x="465.5" y="1228.90" width="208.4" height="43.60" fill="#fcf3f0"/><rect x="225.9" y="1228.90" width="28.3" height="43.60" fill="#dc00f2"/><rect x="258.5" y="1272.20" width="207.0" height="43.60" fill="#f4f8fe"/><rect x="465.5" y="1272.20" width="208.4" height="43.60" fill="#fcf5f2"/><rect x="225.9" y="1272.20" width="28.3" height="43.60" fill="#8a2e2e"/><rect x="258.5" y="1315.50" width="207.0" height="43.60" fill="#f5dad1"/><rect x="465.5" y="1315.50" width="208.4" height="43.60" fill="#dce8fb"/><rect x="225.9" y="1315.50" width="28.3" height="43.60" fill="#dc0000"/><rect x="258.5" y="1358.80" width="207.0" height="43.60" fill="#d5e4fb"/><rect x="465.5" y="1358.80" width="208.4" height="43.60" fill="#f5d5cc"/><rect x="225.9" y="1358.80" width="28.3" height="43.60" fill="#88ddd0"/><rect x="258.5" y="1402.10" width="207.0" height="43.60" fill="#f5d5cc"/><rect x="465.5" y="1402.10" width="208.4" height="43.60" fill="#d5e4fb"/><rect x="225.9" y="1402.10" width="28.3" height="43.60" fill="#ffff33"/><rect x="258.5" y="1445.40" width="207.0" height="43.60" fill="#edbaa8"/><rect x="465.5" y="1445.40" width="208.4" height="43.60" fill="#b9d6fb"/><rect x="225.9" y="1445.40" width="28.3" height="43.60" fill="#8cf53c"/><rect x="258.5" y="1488.70" width="207.0" height="43.60" fill="#e68f72"/><rect x="465.5" y="1488.70" width="208.4" height="43.60" fill="#92bcf6"/><rect x="225.9" y="1488.70" width="28.3" height="43.60" fill="#f0bcc8"/><rect x="258.5" y="1532.00" width="207.0" height="43.60" fill="#f5d5cc"/><rect x="465.5" y="1532.00" width="208.4" height="43.60" fill="#d5e4fb"/><rect x="225.9" y="1532.00" width="28.3" height="43.60" fill="#cdb28c"/><rect x="258.5" y="1575.30" width="207.0" height="43.60" fill="#eaa894"/><rect x="465.5" y="1575.30" width="208.4" height="43.60" fill="#a9ccf9"/><rect x="225.9" y="1575.30" width="28.3" height="43.60" fill="#000000"/><rect x="258.5" y="1618.60" width="207.0" height="43.60" fill="#faebe7"/><rect x="465.5" y="1618.60" width="208.4" height="43.60" fill="#ebf2fd"/><rect x="225.9" y="1618.60" width="28.3" height="43.60" fill="#8a2be2"/><rect x="258.5" y="1661.90" width="207.0" height="43.60" fill="#f7e2dc"/><rect x="465.5" y="1661.90" width="208.4" height="43.60" fill="#e2edfc"/><rect x="225.9" y="1661.90" width="28.3" height="43.60" fill="#bebebe"/></g>
<rect x="258.5" y="1142.3" width="415.4" height="562.9" fill="none" stroke="#333" stroke-width="1.2"/>
<g font-family="Liberation Sans, Arial, sans-serif" font-size="8.3" fill="#000" stroke="#000" stroke-width="0.18"><text x="362.0" y="1161.8" text-anchor="middle">−0.71</text><text x="362.0" y="1172.2" text-anchor="middle">(3e−12)</text><text x="569.7" y="1161.8" text-anchor="middle">0.71</text><text x="569.7" y="1172.2" text-anchor="middle">(3e−12)</text><text x="362.0" y="1205.0" text-anchor="middle">−0.35</text><text x="362.0" y="1215.5" text-anchor="middle">(0.002)</text><text x="569.7" y="1205.0" text-anchor="middle">0.35</text><text x="569.7" y="1215.5" text-anchor="middle">(0.002)</text><text x="362.0" y="1248.3" text-anchor="middle">−0.073</text><text x="362.0" y="1258.8" text-anchor="middle">(0.5)</text><text x="569.7" y="1248.3" text-anchor="middle">0.073</text><text x="569.7" y="1258.8" text-anchor="middle">(0.5)</text><text x="362.0" y="1291.7" text-anchor="middle">−0.055</text><text x="362.0" y="1302.2" text-anchor="middle">(0.6)</text><text x="569.7" y="1291.7" text-anchor="middle">0.055</text><text x="569.7" y="1302.2" text-anchor="middle">(0.6)</text><text x="362.0" y="1335.0" text-anchor="middle">0.18</text><text x="362.0" y="1345.5" text-anchor="middle">(0.1)</text><text x="569.7" y="1335.0" text-anchor="middle">−0.18</text><text x="569.7" y="1345.5" text-anchor="middle">(0.1)</text><text x="362.0" y="1378.2" text-anchor="middle">−0.22</text><text x="362.0" y="1388.8" text-anchor="middle">(0.06)</text><text x="569.7" y="1378.2" text-anchor="middle">0.22</text><text x="569.7" y="1388.8" text-anchor="middle">(0.06)</text><text x="362.0" y="1421.5" text-anchor="middle">0.22</text><text x="362.0" y="1432.0" text-anchor="middle">(0.07)</text><text x="569.7" y="1421.5" text-anchor="middle">−0.22</text><text x="569.7" y="1432.0" text-anchor="middle">(0.07)</text><text x="362.0" y="1464.9" text-anchor="middle">0.35</text><text x="362.0" y="1475.4" text-anchor="middle">(0.002)</text><text x="569.7" y="1464.9" text-anchor="middle">−0.35</text><text x="569.7" y="1475.4" text-anchor="middle">(0.002)</text><text x="362.0" y="1508.2" text-anchor="middle">0.53</text><text x="362.0" y="1518.7" text-anchor="middle">(1e−06)</text><text x="569.7" y="1508.2" text-anchor="middle">−0.53</text><text x="569.7" y="1518.7" text-anchor="middle">(1e−06)</text><text x="362.0" y="1551.5" text-anchor="middle">0.22</text><text x="362.0" y="1562.0" text-anchor="middle">(0.07)</text><text x="569.7" y="1551.5" text-anchor="middle">−0.22</text><text x="569.7" y="1562.0" text-anchor="middle">(0.07)</text><text x="362.0" y="1594.8" text-anchor="middle">0.42</text><text x="362.0" y="1605.2" text-anchor="middle">(2e−04)</text><text x="569.7" y="1594.8" text-anchor="middle">−0.42</text><text x="569.7" y="1605.2" text-anchor="middle">(2e−04)</text><text x="362.0" y="1638.0" text-anchor="middle">0.11</text><text x="362.0" y="1648.5" text-anchor="middle">(0.4)</text><text x="569.7" y="1638.0" text-anchor="middle">−0.11</text><text x="569.7" y="1648.5" text-anchor="middle">(0.4)</text><text x="362.0" y="1681.4" text-anchor="middle">0.15</text><text x="362.0" y="1691.9" text-anchor="middle">(0.2)</text><text x="569.7" y="1681.4" text-anchor="middle">−0.15</text><text x="569.7" y="1691.9" text-anchor="middle">(0.2)</text></g>
<g font-family="Liberation Sans, Arial, sans-serif" font-size="16.4" fill="#111"><text x="221.5" y="1169.8" text-anchor="end">MEblue</text><text x="221.5" y="1213.0" text-anchor="end">MEgreenyellow</text><text x="221.5" y="1256.3" text-anchor="end">MEmagenta</text><text x="221.5" y="1299.7" text-anchor="end">MEbrown</text><text x="221.5" y="1343.0" text-anchor="end">MEred</text><text x="221.5" y="1386.2" text-anchor="end">MEturquoise</text><text x="221.5" y="1429.5" text-anchor="end">MEyellow</text><text x="221.5" y="1472.9" text-anchor="end">MEgreen</text><text x="221.5" y="1516.2" text-anchor="end">MEpink</text><text x="221.5" y="1559.5" text-anchor="end">MEtan</text><text x="221.5" y="1602.8" text-anchor="end">MEblack</text><text x="221.5" y="1646.0" text-anchor="end">MEpurple</text><text x="221.5" y="1689.4" text-anchor="end">MEgrey</text></g>
<defs><linearGradient id="lg" x1="0" y1="0" x2="0" y2="1"><stop offset="0.000" stop-color="#d83a14"/><stop offset="0.145" stop-color="#e0704e"/><stop offset="0.250" stop-color="#e8957a"/><stop offset="0.325" stop-color="#edbaa8"/><stop offset="0.390" stop-color="#f5d5cc"/><stop offset="0.500" stop-color="#ffffff"/><stop offset="0.610" stop-color="#d5e4fb"/><stop offset="0.675" stop-color="#b9d6fb"/><stop offset="0.750" stop-color="#94bef6"/><stop offset="0.855" stop-color="#75a8f8"/><stop offset="1.000" stop-color="#4a85ee"/></linearGradient></defs>
<rect x="682.7" y="1175.9" width="13.2" height="495.6" fill="url(#lg)" stroke="#222" stroke-width="1"/>
<path d="M695.9 1175.9H704.6M695.9 1299.8H704.6M695.9 1423.7H704.6M695.9 1547.6H704.6M695.9 1671.5H704.6" stroke="#222" stroke-width="1.1"/>
<g font-family="Liberation Sans, Arial, sans-serif" font-size="16.4" fill="#111"><text x="709.3" y="1181.8">1</text><text x="709.3" y="1305.7">0.5</text><text x="709.3" y="1429.6">0</text><text x="709.3" y="1553.5">−0.5</text><text x="709.3" y="1677.4">−1</text></g>
<g font-family="Noto Sans CJK SC, DejaVu Sans, sans-serif" font-size="15" fill="#111"><text x="360.3" y="1724" text-anchor="middle">CHB</text><text x="573.6" y="1724" text-anchor="middle">HBV-LC</text></g>
<text x="490.8" y="1119.0" text-anchor="middle" font-family="Liberation Sans, Arial, sans-serif" font-weight="bold" font-size="19.2" fill="#111">Module−trait relationships</text>
<rect x="971.6" y="1174.9" width="537.8" height="481.9" fill="none" stroke="#111" stroke-width="1.3"/>
<path d="M973.4 1656.8V1666.7M1050.4 1656.8V1666.7M1127.3 1656.8V1666.7M1204.3 1656.8V1666.7M1281.2 1656.8V1666.7M1358.2 1656.8V1666.7M1435.2 1656.8V1666.7M1512.1 1656.8V1666.7M971.6 1635.2H962.3M971.6 1562.2H962.3M971.6 1489.2H962.3M971.6 1416.3H962.3M971.6 1343.3H962.3M971.6 1270.3H962.3M971.6 1197.3H962.3" stroke="#111" stroke-width="1.3" fill="none"/>
<g font-family="Liberation Sans, Arial, sans-serif" font-size="18" fill="#111"><text x="973.4" y="1691.2" text-anchor="middle">0.2</text><text x="1050.4" y="1691.2" text-anchor="middle">0.3</text><text x="1127.3" y="1691.2" text-anchor="middle">0.4</text><text x="1204.3" y="1691.2" text-anchor="middle">0.5</text><text x="1281.2" y="1691.2" text-anchor="middle">0.6</text><text x="1358.2" y="1691.2" text-anchor="middle">0.7</text><text x="1435.2" y="1691.2" text-anchor="middle">0.8</text><text x="1512.1" y="1691.2" text-anchor="middle">0.9</text><text transform="translate(948.9 1635.2) rotate(-90)" text-anchor="middle">0.1</text><text transform="translate(948.9 1562.2) rotate(-90)" text-anchor="middle">0.2</text><text transform="translate(948.9 1489.2) rotate(-90)" text-anchor="middle">0.3</text><text transform="translate(948.9 1416.3) rotate(-90)" text-anchor="middle">0.4</text><text transform="translate(948.9 1343.3) rotate(-90)" text-anchor="middle">0.5</text><text transform="translate(948.9 1270.3) rotate(-90)" text-anchor="middle">0.6</text><text transform="translate(948.9 1197.3) rotate(-90)" text-anchor="middle">0.7</text></g>
<text x="1240.3" y="1727.5" text-anchor="middle" font-family="Liberation Sans, Arial, sans-serif" font-size="18" fill="#111">Module Membership in blue module</text>
<text transform="translate(911.6 1418.8) rotate(-90)" text-anchor="middle" font-family="Liberation Sans, Arial, sans-serif" font-size="18" fill="#111" xml:space="preserve">Gene significance for  C</text>
<text x="1240.8" y="1131.7" text-anchor="middle" font-family="Liberation Sans, Arial, sans-serif" font-weight="bold" font-size="18.1" fill="#111">Module membership vs. gene significance</text>
<text x="1243.3" y="1153.2" text-anchor="middle" font-family="Liberation Sans, Arial, sans-serif" font-weight="bold" font-size="18.1" fill="#111">cor=0.82, p=2.9e−80</text>
<g fill="none" stroke="#1212f0" stroke-width="1.15"><circle cx="991.6" cy="1562.0" r="3.4"/><circle cx="1032.4" cy="1563.5" r="3.4"/><circle cx="1035.7" cy="1581.5" r="3.4"/><circle cx="1056.2" cy="1639.1" r="3.4"/><circle cx="1075.7" cy="1630.3" r="3.4"/><circle cx="1093.6" cy="1616.1" r="3.4"/><circle cx="1094.7" cy="1624.8" r="3.4"/><circle cx="1125.3" cy="1616.8" r="3.4"/><circle cx="1144.7" cy="1617.7" r="3.4"/><circle cx="1103.1" cy="1593.4" r="3.4"/><circle cx="1118.4" cy="1593.4" r="3.4"/><circle cx="1141.5" cy="1584.0" r="3.4"/><circle cx="1142.5" cy="1570.6" r="3.4"/><circle cx="1069.5" cy="1554.5" r="3.4"/><circle cx="1070.6" cy="1557.4" r="3.4"/><circle cx="1073.5" cy="1558.5" r="3.4"/><circle cx="1083.2" cy="1567.5" r="3.4"/><circle cx="1083.7" cy="1572.0" r="3.4"/><circle cx="1065.9" cy="1519.3" r="3.4"/><circle cx="1085.6" cy="1528.2" r="3.4"/><circle cx="1103.1" cy="1529.0" r="3.4"/><circle cx="1108.4" cy="1521.8" r="3.4"/><circle cx="1108.9" cy="1514.5" r="3.4"/><circle cx="1112.7" cy="1518.9" r="3.4"/><circle cx="1118.1" cy="1528.4" r="3.4"/><circle cx="1121.0" cy="1532.8" r="3.4"/><circle cx="1105.8" cy="1504.3" r="3.4"/><circle cx="1109.7" cy="1504.6" r="3.4"/><circle cx="1117.9" cy="1506.8" r="3.4"/><circle cx="1118.8" cy="1499.4" r="3.4"/><circle cx="1128.3" cy="1502.9" r="3.4"/><circle cx="1075.7" cy="1501.0" r="3.4"/><circle cx="1076.8" cy="1504.6" r="3.4"/><circle cx="1146.6" cy="1516.6" r="3.4"/><circle cx="1153.3" cy="1498.3" r="3.4"/><circle cx="1173.6" cy="1495.5" r="3.4"/><circle cx="1179.6" cy="1498.1" r="3.4"/><circle cx="1192.7" cy="1498.8" r="3.4"/><circle cx="1235.2" cy="1496.3" r="3.4"/><circle cx="1161.5" cy="1508.7" r="3.4"/><circle cx="1176.1" cy="1507.9" r="3.4"/><circle cx="1170.3" cy="1517.8" r="3.4"/><circle cx="1193.5" cy="1516.0" r="3.4"/><circle cx="1154.2" cy="1522.7" r="3.4"/><circle cx="1173.6" cy="1526.2" r="3.4"/><circle cx="1172.7" cy="1531.2" r="3.4"/><circle cx="1187.6" cy="1522.9" r="3.4"/><circle cx="1181.8" cy="1528.7" r="3.4"/><circle cx="1185.1" cy="1530.1" r="3.4"/><circle cx="1185.9" cy="1535.0" r="3.4"/><circle cx="1171.9" cy="1539.7" r="3.4"/><circle cx="1151.6" cy="1538.6" r="3.4"/><circle cx="1157.7" cy="1550.9" r="3.4"/><circle cx="1178.3" cy="1559.6" r="3.4"/><circle cx="1163.7" cy="1564.3" r="3.4"/><circle cx="1150.0" cy="1575.3" r="3.4"/><circle cx="1152.2" cy="1594.9" r="3.4"/><circle cx="1178.8" cy="1596.9" r="3.4"/><circle cx="1213.2" cy="1523.5" r="3.4"/><circle cx="1219.8" cy="1523.3" r="3.4"/><circle cx="1230.9" cy="1521.5" r="3.4"/><circle cx="1247.8" cy="1523.7" r="3.4"/><circle cx="1270.2" cy="1514.5" r="3.4"/><circle cx="1276.9" cy="1514.5" r="3.4"/><circle cx="1276.0" cy="1522.9" r="3.4"/><circle cx="1117.6" cy="1393.9" r="3.4"/><circle cx="1136.7" cy="1389.4" r="3.4"/><circle cx="1088.3" cy="1426.5" r="3.4"/><circle cx="1082.8" cy="1432.0" r="3.4"/><circle cx="1082.3" cy="1438.0" r="3.4"/><circle cx="1136.0" cy="1427.4" r="3.4"/><circle cx="1138.7" cy="1430.1" r="3.4"/><circle cx="1109.7" cy="1441.5" r="3.4"/><circle cx="1102.0" cy="1444.8" r="3.4"/><circle cx="1117.6" cy="1449.5" r="3.4"/><circle cx="1091.9" cy="1455.3" r="3.4"/><circle cx="1103.1" cy="1465.4" r="3.4"/><circle cx="1131.0" cy="1459.0" r="3.4"/><circle cx="1140.7" cy="1455.2" r="3.4"/><circle cx="1125.8" cy="1465.9" r="3.4"/><circle cx="1135.2" cy="1469.5" r="3.4"/><circle cx="1142.0" cy="1467.9" r="3.4"/><circle cx="1091.1" cy="1475.6" r="3.4"/><circle cx="1110.6" cy="1476.3" r="3.4"/><circle cx="1117.1" cy="1478.0" r="3.4"/><circle cx="1129.4" cy="1481.3" r="3.4"/><circle cx="1108.3" cy="1486.7" r="3.4"/><circle cx="1108.6" cy="1493.9" r="3.4"/><circle cx="1127.4" cy="1487.6" r="3.4"/><circle cx="1132.9" cy="1489.5" r="3.4"/><circle cx="1135.4" cy="1494.7" r="3.4"/><circle cx="1140.4" cy="1491.1" r="3.4"/><circle cx="1140.4" cy="1494.4" r="3.4"/><circle cx="1146.4" cy="1485.6" r="3.4"/><circle cx="1147.7" cy="1478.0" r="3.4"/><circle cx="1149.7" cy="1491.7" r="3.4"/><circle cx="1238.7" cy="1336.1" r="3.4"/><circle cx="1289.1" cy="1336.6" r="3.4"/><circle cx="1300.6" cy="1336.3" r="3.4"/><circle cx="1268.9" cy="1340.5" r="3.4"/><circle cx="1267.0" cy="1344.9" r="3.4"/><circle cx="1231.1" cy="1347.1" r="3.4"/><circle cx="1198.8" cy="1350.9" r="3.4"/><circle cx="1159.3" cy="1359.1" r="3.4"/><circle cx="1224.3" cy="1362.4" r="3.4"/><circle cx="1287.8" cy="1349.8" r="3.4"/><circle cx="1290.8" cy="1353.6" r="3.4"/><circle cx="1292.7" cy="1357.8" r="3.4"/><circle cx="1310.8" cy="1349.0" r="3.4"/><circle cx="1313.2" cy="1356.7" r="3.4"/><circle cx="1319.6" cy="1362.6" r="3.4"/><circle cx="1316.0" cy="1366.8" r="3.4"/><circle cx="1316.0" cy="1370.6" r="3.4"/><circle cx="1259.9" cy="1369.2" r="3.4"/><circle cx="1261.7" cy="1373.1" r="3.4"/><circle cx="1240.7" cy="1372.6" r="3.4"/><circle cx="1222.6" cy="1376.6" r="3.4"/><circle cx="1228.9" cy="1376.8" r="3.4"/><circle cx="1290.6" cy="1369.2" r="3.4"/><circle cx="1294.4" cy="1370.1" r="3.4"/><circle cx="1285.3" cy="1374.2" r="3.4"/><circle cx="1278.5" cy="1377.5" r="3.4"/><circle cx="1231.1" cy="1384.5" r="3.4"/><circle cx="1229.4" cy="1388.7" r="3.4"/><circle cx="1259.9" cy="1381.6" r="3.4"/><circle cx="1263.4" cy="1384.3" r="3.4"/><circle cx="1295.7" cy="1385.7" r="3.4"/><circle cx="1305.3" cy="1383.4" r="3.4"/><circle cx="1307.8" cy="1390.3" r="3.4"/><circle cx="1312.1" cy="1388.7" r="3.4"/><circle cx="1313.2" cy="1390.9" r="3.4"/><circle cx="1312.1" cy="1392.5" r="3.4"/><circle cx="1316.8" cy="1394.2" r="3.4"/><circle cx="1328.6" cy="1386.5" r="3.4"/><circle cx="1243.1" cy="1391.1" r="3.4"/><circle cx="1280.0" cy="1395.6" r="3.4"/><circle cx="1181.2" cy="1394.5" r="3.4"/><circle cx="1208.6" cy="1400.2" r="3.4"/><circle cx="1207.5" cy="1401.3" r="3.4"/><circle cx="1226.1" cy="1406.8" r="3.4"/><circle cx="1222.1" cy="1410.8" r="3.4"/><circle cx="1226.7" cy="1412.8" r="3.4"/><circle cx="1267.8" cy="1410.0" r="3.4"/><circle cx="1292.7" cy="1413.7" r="3.4"/><circle cx="1312.9" cy="1415.0" r="3.4"/><circle cx="1321.8" cy="1408.9" r="3.4"/><circle cx="1322.9" cy="1411.7" r="3.4"/><circle cx="1151.6" cy="1410.6" r="3.4"/><circle cx="1156.6" cy="1413.9" r="3.4"/><circle cx="1160.7" cy="1414.4" r="3.4"/><circle cx="1154.2" cy="1422.1" r="3.4"/><circle cx="1163.1" cy="1422.6" r="3.4"/><circle cx="1181.8" cy="1412.8" r="3.4"/><circle cx="1193.8" cy="1411.4" r="3.4"/><circle cx="1213.5" cy="1416.6" r="3.4"/><circle cx="1214.4" cy="1420.2" r="3.4"/><circle cx="1258.8" cy="1418.8" r="3.4"/><circle cx="1200.9" cy="1427.6" r="3.4"/><circle cx="1208.6" cy="1427.9" r="3.4"/><circle cx="1210.8" cy="1426.5" r="3.4"/><circle cx="1217.9" cy="1425.1" r="3.4"/><circle cx="1218.8" cy="1430.9" r="3.4"/><circle cx="1231.1" cy="1424.8" r="3.4"/><circle cx="1229.8" cy="1429.8" r="3.4"/><circle cx="1240.2" cy="1424.0" r="3.4"/><circle cx="1247.8" cy="1430.3" r="3.4"/><circle cx="1255.0" cy="1427.6" r="3.4"/><circle cx="1256.0" cy="1430.1" r="3.4"/><circle cx="1285.5" cy="1425.4" r="3.4"/><circle cx="1271.3" cy="1431.4" r="3.4"/><circle cx="1277.1" cy="1428.7" r="3.4"/><circle cx="1276.9" cy="1432.0" r="3.4"/><circle cx="1296.8" cy="1430.3" r="3.4"/><circle cx="1298.4" cy="1427.6" r="3.4"/><circle cx="1308.5" cy="1429.2" r="3.4"/><circle cx="1313.2" cy="1432.0" r="3.4"/><circle cx="1313.8" cy="1436.9" r="3.4"/><circle cx="1307.8" cy="1436.3" r="3.4"/><circle cx="1303.4" cy="1436.3" r="3.4"/><circle cx="1306.1" cy="1438.0" r="3.4"/><circle cx="1302.1" cy="1440.0" r="3.4"/><circle cx="1304.1" cy="1448.9" r="3.4"/><circle cx="1202.6" cy="1435.6" r="3.4"/><circle cx="1221.4" cy="1437.2" r="3.4"/><circle cx="1178.5" cy="1439.8" r="3.4"/><circle cx="1198.2" cy="1441.8" r="3.4"/><circle cx="1210.0" cy="1444.0" r="3.4"/><circle cx="1221.2" cy="1445.1" r="3.4"/><circle cx="1240.9" cy="1439.6" r="3.4"/><circle cx="1248.9" cy="1443.2" r="3.4"/><circle cx="1255.5" cy="1440.5" r="3.4"/><circle cx="1261.4" cy="1437.4" r="3.4"/><circle cx="1265.8" cy="1441.5" r="3.4"/><circle cx="1259.9" cy="1446.7" r="3.4"/><circle cx="1261.4" cy="1453.1" r="3.4"/><circle cx="1184.5" cy="1448.6" r="3.4"/><circle cx="1179.4" cy="1451.9" r="3.4"/><circle cx="1185.6" cy="1455.5" r="3.4"/><circle cx="1204.4" cy="1448.9" r="3.4"/><circle cx="1203.7" cy="1456.4" r="3.4"/><circle cx="1196.6" cy="1457.5" r="3.4"/><circle cx="1192.7" cy="1460.8" r="3.4"/><circle cx="1221.0" cy="1456.1" r="3.4"/><circle cx="1226.7" cy="1454.2" r="3.4"/><circle cx="1228.9" cy="1454.4" r="3.4"/><circle cx="1173.2" cy="1460.4" r="3.4"/><circle cx="1162.9" cy="1464.3" r="3.4"/><circle cx="1160.7" cy="1465.4" r="3.4"/><circle cx="1200.7" cy="1468.1" r="3.4"/><circle cx="1213.0" cy="1471.7" r="3.4"/><circle cx="1218.5" cy="1472.8" r="3.4"/><circle cx="1204.8" cy="1476.7" r="3.4"/><circle cx="1211.9" cy="1479.6" r="3.4"/><circle cx="1169.2" cy="1474.9" r="3.4"/><circle cx="1190.0" cy="1481.3" r="3.4"/><circle cx="1152.7" cy="1472.5" r="3.4"/><circle cx="1153.3" cy="1476.3" r="3.4"/><circle cx="1220.7" cy="1482.9" r="3.4"/><circle cx="1242.6" cy="1468.7" r="3.4"/><circle cx="1247.3" cy="1475.6" r="3.4"/><circle cx="1256.0" cy="1470.3" r="3.4"/><circle cx="1310.2" cy="1482.9" r="3.4"/><circle cx="1266.1" cy="1488.9" r="3.4"/><circle cx="1220.4" cy="1491.1" r="3.4"/><circle cx="1227.2" cy="1491.9" r="3.4"/><circle cx="1153.3" cy="1486.2" r="3.4"/><circle cx="1342.1" cy="1336.1" r="3.4"/><circle cx="1352.8" cy="1338.8" r="3.4"/><circle cx="1337.1" cy="1341.0" r="3.4"/><circle cx="1334.9" cy="1346.0" r="3.4"/><circle cx="1361.8" cy="1345.4" r="3.4"/><circle cx="1390.8" cy="1337.4" r="3.4"/><circle cx="1390.5" cy="1344.6" r="3.4"/><circle cx="1415.5" cy="1338.1" r="3.4"/><circle cx="1437.7" cy="1336.6" r="3.4"/><circle cx="1357.9" cy="1354.7" r="3.4"/><circle cx="1377.1" cy="1358.9" r="3.4"/><circle cx="1397.0" cy="1356.0" r="3.4"/><circle cx="1337.4" cy="1362.4" r="3.4"/><circle cx="1356.8" cy="1371.7" r="3.4"/><circle cx="1359.4" cy="1375.0" r="3.4"/><circle cx="1359.6" cy="1376.6" r="3.4"/><circle cx="1348.1" cy="1378.3" r="3.4"/><circle cx="1348.8" cy="1383.0" r="3.4"/><circle cx="1348.1" cy="1389.0" r="3.4"/><circle cx="1376.2" cy="1388.9" r="3.4"/><circle cx="1387.5" cy="1388.9" r="3.4"/><circle cx="1401.2" cy="1388.7" r="3.4"/><circle cx="1346.2" cy="1400.7" r="3.4"/><circle cx="1349.5" cy="1405.3" r="3.4"/><circle cx="1338.2" cy="1408.7" r="3.4"/><circle cx="1366.7" cy="1409.3" r="3.4"/><circle cx="1369.2" cy="1410.4" r="3.4"/><circle cx="1334.2" cy="1422.1" r="3.4"/><circle cx="1350.6" cy="1450.9" r="3.4"/><circle cx="1301.2" cy="1263.7" r="3.4"/><circle cx="1294.1" cy="1290.9" r="3.4"/><circle cx="1289.7" cy="1296.1" r="3.4"/><circle cx="1312.7" cy="1301.0" r="3.4"/><circle cx="1318.7" cy="1302.4" r="3.4"/><circle cx="1313.0" cy="1309.8" r="3.4"/><circle cx="1291.3" cy="1315.6" r="3.4"/><circle cx="1289.7" cy="1319.1" r="3.4"/><circle cx="1316.0" cy="1317.2" r="3.4"/><circle cx="1310.5" cy="1321.8" r="3.4"/><circle cx="1274.1" cy="1319.6" r="3.4"/><circle cx="1233.5" cy="1325.9" r="3.4"/><circle cx="1324.2" cy="1332.2" r="3.4"/><circle cx="1364.8" cy="1192.2" r="3.4"/><circle cx="1434.1" cy="1216.1" r="3.4"/><circle cx="1435.7" cy="1218.1" r="3.4"/><circle cx="1457.3" cy="1215.2" r="3.4"/><circle cx="1400.1" cy="1227.6" r="3.4"/><circle cx="1444.8" cy="1230.9" r="3.4"/><circle cx="1486.1" cy="1230.9" r="3.4"/><circle cx="1380.4" cy="1241.5" r="3.4"/><circle cx="1472.4" cy="1240.7" r="3.4"/><circle cx="1398.7" cy="1249.3" r="3.4"/><circle cx="1333.8" cy="1257.7" r="3.4"/><circle cx="1381.3" cy="1255.7" r="3.4"/><circle cx="1428.0" cy="1258.6" r="3.4"/><circle cx="1489.6" cy="1259.9" r="3.4"/><circle cx="1455.8" cy="1262.9" r="3.4"/><circle cx="1453.5" cy="1270.6" r="3.4"/><circle cx="1340.6" cy="1272.2" r="3.4"/><circle cx="1344.8" cy="1271.4" r="3.4"/><circle cx="1344.5" cy="1281.8" r="3.4"/><circle cx="1385.0" cy="1276.9" r="3.4"/><circle cx="1416.3" cy="1277.8" r="3.4"/><circle cx="1427.8" cy="1281.6" r="3.4"/><circle cx="1442.8" cy="1274.5" r="3.4"/><circle cx="1437.9" cy="1281.3" r="3.4"/><circle cx="1442.8" cy="1286.4" r="3.4"/><circle cx="1469.4" cy="1277.7" r="3.4"/><circle cx="1466.9" cy="1286.7" r="3.4"/><circle cx="1388.1" cy="1288.9" r="3.4"/><circle cx="1448.0" cy="1294.4" r="3.4"/><circle cx="1331.1" cy="1296.1" r="3.4"/><circle cx="1380.4" cy="1296.9" r="3.4"/><circle cx="1381.2" cy="1301.2" r="3.4"/><circle cx="1401.0" cy="1298.0" r="3.4"/><circle cx="1403.1" cy="1305.0" r="3.4"/><circle cx="1479.9" cy="1304.6" r="3.4"/><circle cx="1345.3" cy="1312.7" r="3.4"/><circle cx="1378.8" cy="1311.2" r="3.4"/><circle cx="1383.5" cy="1308.9" r="3.4"/><circle cx="1393.8" cy="1310.1" r="3.4"/><circle cx="1427.3" cy="1308.7" r="3.4"/><circle cx="1423.4" cy="1316.3" r="3.4"/><circle cx="1436.8" cy="1316.3" r="3.4"/><circle cx="1433.3" cy="1321.8" r="3.4"/><circle cx="1404.2" cy="1315.8" r="3.4"/><circle cx="1386.4" cy="1317.2" r="3.4"/><circle cx="1405.0" cy="1323.4" r="3.4"/><circle cx="1455.8" cy="1323.1" r="3.4"/><circle cx="1361.0" cy="1324.3" r="3.4"/><circle cx="1358.8" cy="1330.6" r="3.4"/><circle cx="1390.6" cy="1326.2" r="3.4"/></g>
<g font-family="Liberation Sans, Arial, sans-serif" font-weight="bold" font-size="44" fill="#000"><text transform="translate(1.2 32.5) scale(1.0 1)">A</text><text transform="translate(677.1 34.5) scale(0.92 1)">B</text><text transform="translate(10.7 626.5) scale(0.92 1)">C</text><text transform="translate(875.85 603.8) scale(0.92 1)">D</text><text transform="translate(11.1 1115.6) scale(0.92 1)">E</text><text transform="translate(898.2 1153.5) scale(0.92 1)">F</text></g>
</svg>
</body></html>
